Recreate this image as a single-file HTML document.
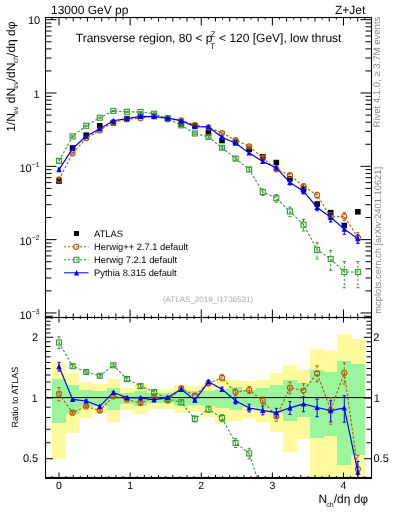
<!DOCTYPE html><html><head><meta charset="utf-8"><style>html,body{margin:0;padding:0;background:#fff;overflow:hidden}svg{display:block;will-change:transform;text-rendering:geometricPrecision;font-family:"Liberation Sans",sans-serif}</style></head><body><svg width="393" height="512" viewBox="0 0 393 512">
<rect x="0" y="0" width="393" height="512" fill="#fff"/>
<g shape-rendering="crispEdges">
<rect x="52" y="362.5" width="14" height="96.2" fill="#fffa9c"/>
<rect x="66" y="373.0" width="13" height="60.1" fill="#fffa9c"/>
<rect x="79" y="382.0" width="14" height="35.5" fill="#fffa9c"/>
<rect x="93" y="384.2" width="14" height="30.1" fill="#fffa9c"/>
<rect x="107" y="379.2" width="13" height="42.9" fill="#fffa9c"/>
<rect x="120" y="387.7" width="14" height="22.0" fill="#fffa9c"/>
<rect x="134" y="384.2" width="13" height="30.1" fill="#fffa9c"/>
<rect x="147" y="388.5" width="14" height="20.2" fill="#fffa9c"/>
<rect x="161" y="388.5" width="13" height="20.2" fill="#fffa9c"/>
<rect x="174" y="385.0" width="14" height="28.3" fill="#fffa9c"/>
<rect x="188" y="386.1" width="14" height="25.6" fill="#fffa9c"/>
<rect x="202" y="382.8" width="13" height="33.7" fill="#fffa9c"/>
<rect x="215" y="378.5" width="14" height="44.7" fill="#fffa9c"/>
<rect x="229" y="379.9" width="13" height="41.0" fill="#fffa9c"/>
<rect x="242" y="381.3" width="14" height="37.3" fill="#fffa9c"/>
<rect x="256" y="379.5" width="14" height="42.0" fill="#fffa9c"/>
<rect x="270" y="373.3" width="13" height="59.1" fill="#fffa9c"/>
<rect x="283" y="364.9" width="14" height="87.1" fill="#fffa9c"/>
<rect x="297" y="370.1" width="13" height="69.1" fill="#fffa9c"/>
<rect x="310" y="349.0" width="14" height="128.5" fill="#fffa9c"/>
<rect x="324" y="351.0" width="13" height="126.5" fill="#fffa9c"/>
<rect x="337" y="334.3" width="14" height="143.2" fill="#fffa9c"/>
<rect x="351" y="338.6" width="14" height="138.9" fill="#fffa9c"/>
<rect x="52" y="378.5" width="14" height="44.7" fill="#9bf59b"/>
<rect x="66" y="384.5" width="13" height="29.4" fill="#9bf59b"/>
<rect x="79" y="389.7" width="14" height="17.6" fill="#9bf59b"/>
<rect x="93" y="390.9" width="14" height="14.9" fill="#9bf59b"/>
<rect x="107" y="387.7" width="13" height="22.0" fill="#9bf59b"/>
<rect x="120" y="392.5" width="14" height="11.4" fill="#9bf59b"/>
<rect x="134" y="390.7" width="13" height="15.3" fill="#9bf59b"/>
<rect x="147" y="392.9" width="14" height="10.5" fill="#9bf59b"/>
<rect x="161" y="392.9" width="13" height="10.5" fill="#9bf59b"/>
<rect x="174" y="390.5" width="14" height="15.8" fill="#9bf59b"/>
<rect x="188" y="391.3" width="14" height="14.0" fill="#9bf59b"/>
<rect x="202" y="390.5" width="13" height="15.8" fill="#9bf59b"/>
<rect x="215" y="388.9" width="14" height="19.3" fill="#9bf59b"/>
<rect x="229" y="387.3" width="13" height="22.9" fill="#9bf59b"/>
<rect x="242" y="389.7" width="14" height="17.6" fill="#9bf59b"/>
<rect x="256" y="388.1" width="14" height="21.1" fill="#9bf59b"/>
<rect x="270" y="385.0" width="13" height="28.3" fill="#9bf59b"/>
<rect x="283" y="379.9" width="14" height="41.0" fill="#9bf59b"/>
<rect x="297" y="382.8" width="13" height="33.7" fill="#9bf59b"/>
<rect x="310" y="370.4" width="14" height="68.0" fill="#9bf59b"/>
<rect x="324" y="371.7" width="13" height="64.0" fill="#9bf59b"/>
<rect x="337" y="360.5" width="14" height="104.6" fill="#9bf59b"/>
<rect x="351" y="363.7" width="14" height="91.6" fill="#9bf59b"/>
</g>
<line x1="45.5" y1="397.6" x2="371.5" y2="397.6" stroke="#000" stroke-width="1"/>
<defs><clipPath id="cm"><rect x="46" y="18" width="325" height="299"/></clipPath><clipPath id="cr"><rect x="46" y="318" width="325" height="159.5"/></clipPath></defs>
<rect x="56.20" y="178.20" width="5.6" height="5.6" fill="#000" clip-path="url(#cm)"/>
<rect x="69.79" y="145.20" width="5.6" height="5.6" fill="#000" clip-path="url(#cm)"/>
<rect x="83.37" y="132.40" width="5.6" height="5.6" fill="#000" clip-path="url(#cm)"/>
<rect x="96.95" y="123.00" width="5.6" height="5.6" fill="#000" clip-path="url(#cm)"/>
<rect x="110.54" y="120.00" width="5.6" height="5.6" fill="#000" clip-path="url(#cm)"/>
<rect x="124.13" y="115.90" width="5.6" height="5.6" fill="#000" clip-path="url(#cm)"/>
<rect x="137.71" y="113.50" width="5.6" height="5.6" fill="#000" clip-path="url(#cm)"/>
<rect x="151.29" y="113.10" width="5.6" height="5.6" fill="#000" clip-path="url(#cm)"/>
<rect x="164.88" y="115.50" width="5.6" height="5.6" fill="#000" clip-path="url(#cm)"/>
<rect x="178.47" y="121.00" width="5.6" height="5.6" fill="#000" clip-path="url(#cm)"/>
<rect x="192.05" y="123.10" width="5.6" height="5.6" fill="#000" clip-path="url(#cm)"/>
<rect x="205.63" y="130.00" width="5.6" height="5.6" fill="#000" clip-path="url(#cm)"/>
<rect x="219.22" y="137.70" width="5.6" height="5.6" fill="#000" clip-path="url(#cm)"/>
<rect x="232.81" y="139.40" width="5.6" height="5.6" fill="#000" clip-path="url(#cm)"/>
<rect x="246.39" y="146.50" width="5.6" height="5.6" fill="#000" clip-path="url(#cm)"/>
<rect x="259.97" y="154.10" width="5.6" height="5.6" fill="#000" clip-path="url(#cm)"/>
<rect x="273.56" y="159.80" width="5.6" height="5.6" fill="#000" clip-path="url(#cm)"/>
<rect x="287.15" y="176.10" width="5.6" height="5.6" fill="#000" clip-path="url(#cm)"/>
<rect x="300.73" y="186.20" width="5.6" height="5.6" fill="#000" clip-path="url(#cm)"/>
<rect x="314.31" y="201.20" width="5.6" height="5.6" fill="#000" clip-path="url(#cm)"/>
<rect x="327.90" y="209.90" width="5.6" height="5.6" fill="#000" clip-path="url(#cm)"/>
<rect x="341.49" y="222.70" width="5.6" height="5.6" fill="#000" clip-path="url(#cm)"/>
<rect x="355.07" y="209.00" width="5.6" height="5.6" fill="#000" clip-path="url(#cm)"/>
<polyline points="59.00,179.51 72.59,153.34 86.17,138.25 99.75,130.38 113.34,122.18 126.93,119.25 140.51,118.15 154.09,115.68 167.68,119.21 181.27,120.27 194.85,124.99 208.44,127.42 222.02,133.12 235.61,140.13 249.19,146.39 262.77,157.92 276.36,169.32 289.95,175.19 303.53,186.27 317.12,195.06 330.70,217.06 344.29,216.34 357.87,237.64" fill="none" stroke="#b35900" stroke-width="1.1" stroke-dasharray="2.5,1.8" clip-path="url(#cm)"/>
<g stroke="#b35900" stroke-width="1" clip-path="url(#cm)"><line x1="59.00" y1="177.21" x2="59.00" y2="181.99" stroke-dasharray="2.5,1.8"/><line x1="57.40" y1="177.21" x2="60.60" y2="177.21"/><line x1="57.40" y1="181.99" x2="60.60" y2="181.99"/></g>
<g stroke="#b35900" stroke-width="1" clip-path="url(#cm)"><line x1="72.59" y1="152.87" x2="72.59" y2="153.82" stroke-dasharray="2.5,1.8"/><line x1="70.99" y1="152.87" x2="74.19" y2="152.87"/><line x1="70.99" y1="153.82" x2="74.19" y2="153.82"/></g>
<g stroke="#b35900" stroke-width="1" clip-path="url(#cm)"><line x1="86.17" y1="137.87" x2="86.17" y2="138.64" stroke-dasharray="2.5,1.8"/><line x1="84.57" y1="137.87" x2="87.77" y2="137.87"/><line x1="84.57" y1="138.64" x2="87.77" y2="138.64"/></g>
<g stroke="#b35900" stroke-width="1" clip-path="url(#cm)"><line x1="99.75" y1="130.00" x2="99.75" y2="130.76" stroke-dasharray="2.5,1.8"/><line x1="98.16" y1="130.00" x2="101.35" y2="130.00"/><line x1="98.16" y1="130.76" x2="101.35" y2="130.76"/></g>
<g stroke="#b35900" stroke-width="1" clip-path="url(#cm)"><line x1="113.34" y1="121.80" x2="113.34" y2="122.57" stroke-dasharray="2.5,1.8"/><line x1="111.74" y1="121.80" x2="114.94" y2="121.80"/><line x1="111.74" y1="122.57" x2="114.94" y2="122.57"/></g>
<g stroke="#b35900" stroke-width="1" clip-path="url(#cm)"><line x1="126.93" y1="118.87" x2="126.93" y2="119.63" stroke-dasharray="2.5,1.8"/><line x1="125.33" y1="118.87" x2="128.53" y2="118.87"/><line x1="125.33" y1="119.63" x2="128.53" y2="119.63"/></g>
<g stroke="#b35900" stroke-width="1" clip-path="url(#cm)"><line x1="140.51" y1="117.68" x2="140.51" y2="118.64" stroke-dasharray="2.5,1.8"/><line x1="138.91" y1="117.68" x2="142.11" y2="117.68"/><line x1="138.91" y1="118.64" x2="142.11" y2="118.64"/></g>
<g stroke="#b35900" stroke-width="1" clip-path="url(#cm)"><line x1="154.09" y1="115.21" x2="154.09" y2="116.16" stroke-dasharray="2.5,1.8"/><line x1="152.50" y1="115.21" x2="155.69" y2="115.21"/><line x1="152.50" y1="116.16" x2="155.69" y2="116.16"/></g>
<g stroke="#b35900" stroke-width="1" clip-path="url(#cm)"><line x1="167.68" y1="118.58" x2="167.68" y2="119.85" stroke-dasharray="2.5,1.8"/><line x1="166.08" y1="118.58" x2="169.28" y2="118.58"/><line x1="166.08" y1="119.85" x2="169.28" y2="119.85"/></g>
<g stroke="#b35900" stroke-width="1" clip-path="url(#cm)"><line x1="181.27" y1="119.64" x2="181.27" y2="120.92" stroke-dasharray="2.5,1.8"/><line x1="179.67" y1="119.64" x2="182.87" y2="119.64"/><line x1="179.67" y1="120.92" x2="182.87" y2="120.92"/></g>
<g stroke="#b35900" stroke-width="1" clip-path="url(#cm)"><line x1="194.85" y1="124.20" x2="194.85" y2="125.80" stroke-dasharray="2.5,1.8"/><line x1="193.25" y1="124.20" x2="196.45" y2="124.20"/><line x1="193.25" y1="125.80" x2="196.45" y2="125.80"/></g>
<g stroke="#b35900" stroke-width="1" clip-path="url(#cm)"><line x1="208.44" y1="126.48" x2="208.44" y2="128.39" stroke-dasharray="2.5,1.8"/><line x1="206.84" y1="126.48" x2="210.03" y2="126.48"/><line x1="206.84" y1="128.39" x2="210.03" y2="128.39"/></g>
<g stroke="#b35900" stroke-width="1" clip-path="url(#cm)"><line x1="222.02" y1="132.03" x2="222.02" y2="134.26" stroke-dasharray="2.5,1.8"/><line x1="220.42" y1="132.03" x2="223.62" y2="132.03"/><line x1="220.42" y1="134.26" x2="223.62" y2="134.26"/></g>
<g stroke="#b35900" stroke-width="1" clip-path="url(#cm)"><line x1="235.61" y1="138.88" x2="235.61" y2="141.43" stroke-dasharray="2.5,1.8"/><line x1="234.01" y1="138.88" x2="237.21" y2="138.88"/><line x1="234.01" y1="141.43" x2="237.21" y2="141.43"/></g>
<g stroke="#b35900" stroke-width="1" clip-path="url(#cm)"><line x1="249.19" y1="145.14" x2="249.19" y2="147.69" stroke-dasharray="2.5,1.8"/><line x1="247.59" y1="145.14" x2="250.79" y2="145.14"/><line x1="247.59" y1="147.69" x2="250.79" y2="147.69"/></g>
<g stroke="#b35900" stroke-width="1" clip-path="url(#cm)"><line x1="262.77" y1="156.55" x2="262.77" y2="159.35" stroke-dasharray="2.5,1.8"/><line x1="261.17" y1="156.55" x2="264.38" y2="156.55"/><line x1="261.17" y1="159.35" x2="264.38" y2="159.35"/></g>
<g stroke="#b35900" stroke-width="1" clip-path="url(#cm)"><line x1="276.36" y1="167.71" x2="276.36" y2="171.03" stroke-dasharray="2.5,1.8"/><line x1="274.76" y1="167.71" x2="277.96" y2="167.71"/><line x1="274.76" y1="171.03" x2="277.96" y2="171.03"/></g>
<g stroke="#b35900" stroke-width="1" clip-path="url(#cm)"><line x1="289.95" y1="173.10" x2="289.95" y2="177.43" stroke-dasharray="2.5,1.8"/><line x1="288.35" y1="173.10" x2="291.55" y2="173.10"/><line x1="288.35" y1="177.43" x2="291.55" y2="177.43"/></g>
<g stroke="#b35900" stroke-width="1" clip-path="url(#cm)"><line x1="303.53" y1="183.82" x2="303.53" y2="188.93" stroke-dasharray="2.5,1.8"/><line x1="301.93" y1="183.82" x2="305.13" y2="183.82"/><line x1="301.93" y1="188.93" x2="305.13" y2="188.93"/></g>
<g stroke="#b35900" stroke-width="1" clip-path="url(#cm)"><line x1="317.12" y1="192.31" x2="317.12" y2="198.06" stroke-dasharray="2.5,1.8"/><line x1="315.51" y1="192.31" x2="318.72" y2="192.31"/><line x1="315.51" y1="198.06" x2="318.72" y2="198.06"/></g>
<g stroke="#b35900" stroke-width="1" clip-path="url(#cm)"><line x1="330.70" y1="212.61" x2="330.70" y2="222.24" stroke-dasharray="2.5,1.8"/><line x1="329.10" y1="212.61" x2="332.30" y2="212.61"/><line x1="329.10" y1="222.24" x2="332.30" y2="222.24"/></g>
<g stroke="#b35900" stroke-width="1" clip-path="url(#cm)"><line x1="344.29" y1="212.73" x2="344.29" y2="220.41" stroke-dasharray="2.5,1.8"/><line x1="342.69" y1="212.73" x2="345.89" y2="212.73"/><line x1="342.69" y1="220.41" x2="345.89" y2="220.41"/></g>
<g stroke="#b35900" stroke-width="1" clip-path="url(#cm)"><line x1="357.87" y1="232.65" x2="357.87" y2="243.58" stroke-dasharray="2.5,1.8"/><line x1="356.27" y1="232.65" x2="359.47" y2="232.65"/><line x1="356.27" y1="243.58" x2="359.47" y2="243.58"/></g>
<circle cx="59.00" cy="179.51" r="2.55" fill="none" stroke="#b35900" stroke-width="1.1" clip-path="url(#cm)"/>
<circle cx="72.59" cy="153.34" r="2.55" fill="none" stroke="#b35900" stroke-width="1.1" clip-path="url(#cm)"/>
<circle cx="86.17" cy="138.25" r="2.55" fill="none" stroke="#b35900" stroke-width="1.1" clip-path="url(#cm)"/>
<circle cx="99.75" cy="130.38" r="2.55" fill="none" stroke="#b35900" stroke-width="1.1" clip-path="url(#cm)"/>
<circle cx="113.34" cy="122.18" r="2.55" fill="none" stroke="#b35900" stroke-width="1.1" clip-path="url(#cm)"/>
<circle cx="126.93" cy="119.25" r="2.55" fill="none" stroke="#b35900" stroke-width="1.1" clip-path="url(#cm)"/>
<circle cx="140.51" cy="118.15" r="2.55" fill="none" stroke="#b35900" stroke-width="1.1" clip-path="url(#cm)"/>
<circle cx="154.09" cy="115.68" r="2.55" fill="none" stroke="#b35900" stroke-width="1.1" clip-path="url(#cm)"/>
<circle cx="167.68" cy="119.21" r="2.55" fill="none" stroke="#b35900" stroke-width="1.1" clip-path="url(#cm)"/>
<circle cx="181.27" cy="120.27" r="2.55" fill="none" stroke="#b35900" stroke-width="1.1" clip-path="url(#cm)"/>
<circle cx="194.85" cy="124.99" r="2.55" fill="none" stroke="#b35900" stroke-width="1.1" clip-path="url(#cm)"/>
<circle cx="208.44" cy="127.42" r="2.55" fill="none" stroke="#b35900" stroke-width="1.1" clip-path="url(#cm)"/>
<circle cx="222.02" cy="133.12" r="2.55" fill="none" stroke="#b35900" stroke-width="1.1" clip-path="url(#cm)"/>
<circle cx="235.61" cy="140.13" r="2.55" fill="none" stroke="#b35900" stroke-width="1.1" clip-path="url(#cm)"/>
<circle cx="249.19" cy="146.39" r="2.55" fill="none" stroke="#b35900" stroke-width="1.1" clip-path="url(#cm)"/>
<circle cx="262.77" cy="157.92" r="2.55" fill="none" stroke="#b35900" stroke-width="1.1" clip-path="url(#cm)"/>
<circle cx="276.36" cy="169.32" r="2.55" fill="none" stroke="#b35900" stroke-width="1.1" clip-path="url(#cm)"/>
<circle cx="289.95" cy="175.19" r="2.55" fill="none" stroke="#b35900" stroke-width="1.1" clip-path="url(#cm)"/>
<circle cx="303.53" cy="186.27" r="2.55" fill="none" stroke="#b35900" stroke-width="1.1" clip-path="url(#cm)"/>
<circle cx="317.12" cy="195.06" r="2.55" fill="none" stroke="#b35900" stroke-width="1.1" clip-path="url(#cm)"/>
<circle cx="330.70" cy="217.06" r="2.55" fill="none" stroke="#b35900" stroke-width="1.1" clip-path="url(#cm)"/>
<circle cx="344.29" cy="216.34" r="2.55" fill="none" stroke="#b35900" stroke-width="1.1" clip-path="url(#cm)"/>
<circle cx="357.87" cy="237.64" r="2.55" fill="none" stroke="#b35900" stroke-width="1.1" clip-path="url(#cm)"/>
<polyline points="59.00,160.83 72.59,136.44 86.17,125.75 99.75,117.73 113.34,110.91 126.93,111.79 140.51,111.97 154.09,113.72 167.68,118.66 181.27,125.33 194.85,133.50 208.44,136.91 222.02,147.77 235.61,158.56 249.19,169.44 262.77,192.10 276.36,198.20 289.95,211.50 303.53,224.70 317.12,249.80 330.70,259.00 344.29,272.00 357.87,272.00" fill="none" stroke="#339933" stroke-width="1.1" stroke-dasharray="2.5,1.8" clip-path="url(#cm)"/>
<g stroke="#339933" stroke-width="1" clip-path="url(#cm)"><line x1="59.00" y1="158.76" x2="59.00" y2="163.03" stroke-dasharray="2.5,1.8"/><line x1="57.40" y1="158.76" x2="60.60" y2="158.76"/><line x1="57.40" y1="163.03" x2="60.60" y2="163.03"/></g>
<g stroke="#339933" stroke-width="1" clip-path="url(#cm)"><line x1="72.59" y1="135.81" x2="72.59" y2="137.08" stroke-dasharray="2.5,1.8"/><line x1="70.99" y1="135.81" x2="74.19" y2="135.81"/><line x1="70.99" y1="137.08" x2="74.19" y2="137.08"/></g>
<g stroke="#339933" stroke-width="1" clip-path="url(#cm)"><line x1="86.17" y1="125.27" x2="86.17" y2="126.23" stroke-dasharray="2.5,1.8"/><line x1="84.57" y1="125.27" x2="87.77" y2="125.27"/><line x1="84.57" y1="126.23" x2="87.77" y2="126.23"/></g>
<g stroke="#339933" stroke-width="1" clip-path="url(#cm)"><line x1="99.75" y1="117.26" x2="99.75" y2="118.21" stroke-dasharray="2.5,1.8"/><line x1="98.16" y1="117.26" x2="101.35" y2="117.26"/><line x1="98.16" y1="118.21" x2="101.35" y2="118.21"/></g>
<g stroke="#339933" stroke-width="1" clip-path="url(#cm)"><line x1="113.34" y1="110.44" x2="113.34" y2="111.39" stroke-dasharray="2.5,1.8"/><line x1="111.74" y1="110.44" x2="114.94" y2="110.44"/><line x1="111.74" y1="111.39" x2="114.94" y2="111.39"/></g>
<g stroke="#339933" stroke-width="1" clip-path="url(#cm)"><line x1="126.93" y1="111.16" x2="126.93" y2="112.44" stroke-dasharray="2.5,1.8"/><line x1="125.33" y1="111.16" x2="128.53" y2="111.16"/><line x1="125.33" y1="112.44" x2="128.53" y2="112.44"/></g>
<g stroke="#339933" stroke-width="1" clip-path="url(#cm)"><line x1="140.51" y1="111.34" x2="140.51" y2="112.62" stroke-dasharray="2.5,1.8"/><line x1="138.91" y1="111.34" x2="142.11" y2="111.34"/><line x1="138.91" y1="112.62" x2="142.11" y2="112.62"/></g>
<g stroke="#339933" stroke-width="1" clip-path="url(#cm)"><line x1="154.09" y1="113.09" x2="154.09" y2="114.36" stroke-dasharray="2.5,1.8"/><line x1="152.50" y1="113.09" x2="155.69" y2="113.09"/><line x1="152.50" y1="114.36" x2="155.69" y2="114.36"/></g>
<g stroke="#339933" stroke-width="1" clip-path="url(#cm)"><line x1="167.68" y1="117.88" x2="167.68" y2="119.47" stroke-dasharray="2.5,1.8"/><line x1="166.08" y1="117.88" x2="169.28" y2="117.88"/><line x1="166.08" y1="119.47" x2="169.28" y2="119.47"/></g>
<g stroke="#339933" stroke-width="1" clip-path="url(#cm)"><line x1="181.27" y1="124.54" x2="181.27" y2="126.13" stroke-dasharray="2.5,1.8"/><line x1="179.67" y1="124.54" x2="182.87" y2="124.54"/><line x1="179.67" y1="126.13" x2="182.87" y2="126.13"/></g>
<g stroke="#339933" stroke-width="1" clip-path="url(#cm)"><line x1="194.85" y1="132.40" x2="194.85" y2="134.63" stroke-dasharray="2.5,1.8"/><line x1="193.25" y1="132.40" x2="196.45" y2="132.40"/><line x1="193.25" y1="134.63" x2="196.45" y2="134.63"/></g>
<g stroke="#339933" stroke-width="1" clip-path="url(#cm)"><line x1="208.44" y1="135.81" x2="208.44" y2="138.04" stroke-dasharray="2.5,1.8"/><line x1="206.84" y1="135.81" x2="210.03" y2="135.81"/><line x1="206.84" y1="138.04" x2="210.03" y2="138.04"/></g>
<g stroke="#339933" stroke-width="1" clip-path="url(#cm)"><line x1="222.02" y1="146.52" x2="222.02" y2="149.07" stroke-dasharray="2.5,1.8"/><line x1="220.42" y1="146.52" x2="223.62" y2="146.52"/><line x1="220.42" y1="149.07" x2="223.62" y2="149.07"/></g>
<g stroke="#339933" stroke-width="1" clip-path="url(#cm)"><line x1="235.61" y1="157.00" x2="235.61" y2="160.19" stroke-dasharray="2.5,1.8"/><line x1="234.01" y1="157.00" x2="237.21" y2="157.00"/><line x1="234.01" y1="160.19" x2="237.21" y2="160.19"/></g>
<g stroke="#339933" stroke-width="1" clip-path="url(#cm)"><line x1="249.19" y1="167.58" x2="249.19" y2="171.41" stroke-dasharray="2.5,1.8"/><line x1="247.59" y1="167.58" x2="250.79" y2="167.58"/><line x1="247.59" y1="171.41" x2="250.79" y2="171.41"/></g>
<g stroke="#339933" stroke-width="1" clip-path="url(#cm)"><line x1="262.77" y1="189.07" x2="262.77" y2="195.45" stroke-dasharray="2.5,1.8"/><line x1="261.17" y1="189.07" x2="264.38" y2="189.07"/><line x1="261.17" y1="195.45" x2="264.38" y2="195.45"/></g>
<g stroke="#339933" stroke-width="1" clip-path="url(#cm)"><line x1="276.36" y1="194.59" x2="276.36" y2="202.27" stroke-dasharray="2.5,1.8"/><line x1="274.76" y1="194.59" x2="277.96" y2="194.59"/><line x1="274.76" y1="202.27" x2="277.96" y2="202.27"/></g>
<g stroke="#339933" stroke-width="1" clip-path="url(#cm)"><line x1="289.95" y1="207.05" x2="289.95" y2="216.68" stroke-dasharray="2.5,1.8"/><line x1="288.35" y1="207.05" x2="291.55" y2="207.05"/><line x1="288.35" y1="216.68" x2="291.55" y2="216.68"/></g>
<g stroke="#339933" stroke-width="1" clip-path="url(#cm)"><line x1="303.53" y1="219.43" x2="303.53" y2="231.02" stroke-dasharray="2.5,1.8"/><line x1="301.93" y1="219.43" x2="305.13" y2="219.43"/><line x1="301.93" y1="231.02" x2="305.13" y2="231.02"/></g>
<g stroke="#339933" stroke-width="1" clip-path="url(#cm)"><line x1="317.12" y1="242.69" x2="317.12" y2="258.96" stroke-dasharray="2.5,1.8"/><line x1="315.51" y1="242.69" x2="318.72" y2="242.69"/><line x1="315.51" y1="258.96" x2="318.72" y2="258.96"/></g>
<g stroke="#339933" stroke-width="1" clip-path="url(#cm)"><line x1="330.70" y1="250.65" x2="330.70" y2="270.36" stroke-dasharray="2.5,1.8"/><line x1="329.10" y1="250.65" x2="332.30" y2="250.65"/><line x1="329.10" y1="270.36" x2="332.30" y2="270.36"/></g>
<g stroke="#339933" stroke-width="1" clip-path="url(#cm)"><line x1="344.29" y1="261.51" x2="344.29" y2="287.74" stroke-dasharray="2.5,1.8"/><line x1="342.69" y1="261.51" x2="345.89" y2="261.51"/><line x1="342.69" y1="287.74" x2="345.89" y2="287.74"/></g>
<g stroke="#339933" stroke-width="1" clip-path="url(#cm)"><line x1="357.87" y1="261.51" x2="357.87" y2="287.74" stroke-dasharray="2.5,1.8"/><line x1="356.27" y1="261.51" x2="359.47" y2="261.51"/><line x1="356.27" y1="287.74" x2="359.47" y2="287.74"/></g>
<rect x="56.50" y="158.33" width="5" height="5" fill="none" stroke="#339933" stroke-width="1.1" clip-path="url(#cm)"/>
<rect x="70.09" y="133.94" width="5" height="5" fill="none" stroke="#339933" stroke-width="1.1" clip-path="url(#cm)"/>
<rect x="83.67" y="123.25" width="5" height="5" fill="none" stroke="#339933" stroke-width="1.1" clip-path="url(#cm)"/>
<rect x="97.25" y="115.23" width="5" height="5" fill="none" stroke="#339933" stroke-width="1.1" clip-path="url(#cm)"/>
<rect x="110.84" y="108.41" width="5" height="5" fill="none" stroke="#339933" stroke-width="1.1" clip-path="url(#cm)"/>
<rect x="124.43" y="109.29" width="5" height="5" fill="none" stroke="#339933" stroke-width="1.1" clip-path="url(#cm)"/>
<rect x="138.01" y="109.47" width="5" height="5" fill="none" stroke="#339933" stroke-width="1.1" clip-path="url(#cm)"/>
<rect x="151.59" y="111.22" width="5" height="5" fill="none" stroke="#339933" stroke-width="1.1" clip-path="url(#cm)"/>
<rect x="165.18" y="116.16" width="5" height="5" fill="none" stroke="#339933" stroke-width="1.1" clip-path="url(#cm)"/>
<rect x="178.77" y="122.83" width="5" height="5" fill="none" stroke="#339933" stroke-width="1.1" clip-path="url(#cm)"/>
<rect x="192.35" y="131.00" width="5" height="5" fill="none" stroke="#339933" stroke-width="1.1" clip-path="url(#cm)"/>
<rect x="205.94" y="134.41" width="5" height="5" fill="none" stroke="#339933" stroke-width="1.1" clip-path="url(#cm)"/>
<rect x="219.52" y="145.27" width="5" height="5" fill="none" stroke="#339933" stroke-width="1.1" clip-path="url(#cm)"/>
<rect x="233.11" y="156.06" width="5" height="5" fill="none" stroke="#339933" stroke-width="1.1" clip-path="url(#cm)"/>
<rect x="246.69" y="166.94" width="5" height="5" fill="none" stroke="#339933" stroke-width="1.1" clip-path="url(#cm)"/>
<rect x="260.27" y="189.60" width="5" height="5" fill="none" stroke="#339933" stroke-width="1.1" clip-path="url(#cm)"/>
<rect x="273.86" y="195.70" width="5" height="5" fill="none" stroke="#339933" stroke-width="1.1" clip-path="url(#cm)"/>
<rect x="287.45" y="209.00" width="5" height="5" fill="none" stroke="#339933" stroke-width="1.1" clip-path="url(#cm)"/>
<rect x="301.03" y="222.20" width="5" height="5" fill="none" stroke="#339933" stroke-width="1.1" clip-path="url(#cm)"/>
<rect x="314.62" y="247.30" width="5" height="5" fill="none" stroke="#339933" stroke-width="1.1" clip-path="url(#cm)"/>
<rect x="328.20" y="256.50" width="5" height="5" fill="none" stroke="#339933" stroke-width="1.1" clip-path="url(#cm)"/>
<rect x="341.79" y="269.50" width="5" height="5" fill="none" stroke="#339933" stroke-width="1.1" clip-path="url(#cm)"/>
<rect x="355.37" y="269.50" width="5" height="5" fill="none" stroke="#339933" stroke-width="1.1" clip-path="url(#cm)"/>
<polyline points="59.00,169.59 72.59,148.51 86.17,136.29 99.75,128.85 113.34,120.76 126.93,118.59 140.51,116.30 154.09,116.59 167.68,118.12 181.27,120.64 194.85,126.66 208.44,126.91 222.02,137.34 235.61,143.22 249.19,152.94 262.77,161.41 276.36,167.91 289.95,182.46 303.53,191.14 317.12,207.45 330.70,217.32 344.29,229.13 357.87,238.77" fill="none" stroke="#0000ff" stroke-width="1.2" clip-path="url(#cm)"/>
<g stroke="#0000ff" stroke-width="1" clip-path="url(#cm)"><line x1="59.00" y1="168.03" x2="59.00" y2="171.22"/><line x1="57.40" y1="168.03" x2="60.60" y2="168.03"/><line x1="57.40" y1="171.22" x2="60.60" y2="171.22"/></g>
<g stroke="#0000ff" stroke-width="1" clip-path="url(#cm)"><line x1="72.59" y1="148.03" x2="72.59" y2="148.99"/><line x1="70.99" y1="148.03" x2="74.19" y2="148.03"/><line x1="70.99" y1="148.99" x2="74.19" y2="148.99"/></g>
<g stroke="#0000ff" stroke-width="1" clip-path="url(#cm)"><line x1="86.17" y1="135.91" x2="86.17" y2="136.67"/><line x1="84.57" y1="135.91" x2="87.77" y2="135.91"/><line x1="84.57" y1="136.67" x2="87.77" y2="136.67"/></g>
<g stroke="#0000ff" stroke-width="1" clip-path="url(#cm)"><line x1="99.75" y1="128.47" x2="99.75" y2="129.24"/><line x1="98.16" y1="128.47" x2="101.35" y2="128.47"/><line x1="98.16" y1="129.24" x2="101.35" y2="129.24"/></g>
<g stroke="#0000ff" stroke-width="1" clip-path="url(#cm)"><line x1="113.34" y1="120.38" x2="113.34" y2="121.15"/><line x1="111.74" y1="120.38" x2="114.94" y2="120.38"/><line x1="111.74" y1="121.15" x2="114.94" y2="121.15"/></g>
<g stroke="#0000ff" stroke-width="1" clip-path="url(#cm)"><line x1="126.93" y1="118.21" x2="126.93" y2="118.98"/><line x1="125.33" y1="118.21" x2="128.53" y2="118.21"/><line x1="125.33" y1="118.98" x2="128.53" y2="118.98"/></g>
<g stroke="#0000ff" stroke-width="1" clip-path="url(#cm)"><line x1="140.51" y1="115.92" x2="140.51" y2="116.68"/><line x1="138.91" y1="115.92" x2="142.11" y2="115.92"/><line x1="138.91" y1="116.68" x2="142.11" y2="116.68"/></g>
<g stroke="#0000ff" stroke-width="1" clip-path="url(#cm)"><line x1="154.09" y1="116.21" x2="154.09" y2="116.98"/><line x1="152.50" y1="116.21" x2="155.69" y2="116.21"/><line x1="152.50" y1="116.98" x2="155.69" y2="116.98"/></g>
<g stroke="#0000ff" stroke-width="1" clip-path="url(#cm)"><line x1="167.68" y1="117.64" x2="167.68" y2="118.60"/><line x1="166.08" y1="117.64" x2="169.28" y2="117.64"/><line x1="166.08" y1="118.60" x2="169.28" y2="118.60"/></g>
<g stroke="#0000ff" stroke-width="1" clip-path="url(#cm)"><line x1="181.27" y1="120.16" x2="181.27" y2="121.12"/><line x1="179.67" y1="120.16" x2="182.87" y2="120.16"/><line x1="179.67" y1="121.12" x2="182.87" y2="121.12"/></g>
<g stroke="#0000ff" stroke-width="1" clip-path="url(#cm)"><line x1="194.85" y1="126.03" x2="194.85" y2="127.31"/><line x1="193.25" y1="126.03" x2="196.45" y2="126.03"/><line x1="193.25" y1="127.31" x2="196.45" y2="127.31"/></g>
<g stroke="#0000ff" stroke-width="1" clip-path="url(#cm)"><line x1="208.44" y1="126.28" x2="208.44" y2="127.55"/><line x1="206.84" y1="126.28" x2="210.03" y2="126.28"/><line x1="206.84" y1="127.55" x2="210.03" y2="127.55"/></g>
<g stroke="#0000ff" stroke-width="1" clip-path="url(#cm)"><line x1="222.02" y1="136.55" x2="222.02" y2="138.14"/><line x1="220.42" y1="136.55" x2="223.62" y2="136.55"/><line x1="220.42" y1="138.14" x2="223.62" y2="138.14"/></g>
<g stroke="#0000ff" stroke-width="1" clip-path="url(#cm)"><line x1="235.61" y1="142.12" x2="235.61" y2="144.35"/><line x1="234.01" y1="142.12" x2="237.21" y2="142.12"/><line x1="234.01" y1="144.35" x2="237.21" y2="144.35"/></g>
<g stroke="#0000ff" stroke-width="1" clip-path="url(#cm)"><line x1="249.19" y1="151.56" x2="249.19" y2="154.37"/><line x1="247.59" y1="151.56" x2="250.79" y2="151.56"/><line x1="247.59" y1="154.37" x2="250.79" y2="154.37"/></g>
<g stroke="#0000ff" stroke-width="1" clip-path="url(#cm)"><line x1="262.77" y1="159.88" x2="262.77" y2="163.01"/><line x1="261.17" y1="159.88" x2="264.38" y2="159.88"/><line x1="261.17" y1="163.01" x2="264.38" y2="163.01"/></g>
<g stroke="#0000ff" stroke-width="1" clip-path="url(#cm)"><line x1="276.36" y1="166.35" x2="276.36" y2="169.54"/><line x1="274.76" y1="166.35" x2="277.96" y2="166.35"/><line x1="274.76" y1="169.54" x2="277.96" y2="169.54"/></g>
<g stroke="#0000ff" stroke-width="1" clip-path="url(#cm)"><line x1="289.95" y1="180.19" x2="289.95" y2="184.91"/><line x1="288.35" y1="180.19" x2="291.55" y2="180.19"/><line x1="288.35" y1="184.91" x2="291.55" y2="184.91"/></g>
<g stroke="#0000ff" stroke-width="1" clip-path="url(#cm)"><line x1="303.53" y1="188.55" x2="303.53" y2="193.97"/><line x1="301.93" y1="188.55" x2="305.13" y2="188.55"/><line x1="301.93" y1="193.97" x2="305.13" y2="193.97"/></g>
<g stroke="#0000ff" stroke-width="1" clip-path="url(#cm)"><line x1="317.12" y1="204.42" x2="317.12" y2="210.81"/><line x1="315.51" y1="204.42" x2="318.72" y2="204.42"/><line x1="315.51" y1="210.81" x2="318.72" y2="210.81"/></g>
<g stroke="#0000ff" stroke-width="1" clip-path="url(#cm)"><line x1="330.70" y1="213.71" x2="330.70" y2="221.39"/><line x1="329.10" y1="213.71" x2="332.30" y2="213.71"/><line x1="329.10" y1="221.39" x2="332.30" y2="221.39"/></g>
<g stroke="#0000ff" stroke-width="1" clip-path="url(#cm)"><line x1="344.29" y1="224.68" x2="344.29" y2="234.31"/><line x1="342.69" y1="224.68" x2="345.89" y2="224.68"/><line x1="342.69" y1="234.31" x2="345.89" y2="234.31"/></g>
<g stroke="#0000ff" stroke-width="1" clip-path="url(#cm)"><line x1="357.87" y1="234.88" x2="357.87" y2="243.21"/><line x1="356.27" y1="234.88" x2="359.47" y2="234.88"/><line x1="356.27" y1="243.21" x2="359.47" y2="243.21"/></g>
<path d="M56.30,172.19 L61.70,172.19 L59.00,166.59 Z" fill="#0000ff" clip-path="url(#cm)"/>
<path d="M69.89,151.11 L75.29,151.11 L72.59,145.51 Z" fill="#0000ff" clip-path="url(#cm)"/>
<path d="M83.47,138.89 L88.87,138.89 L86.17,133.29 Z" fill="#0000ff" clip-path="url(#cm)"/>
<path d="M97.05,131.45 L102.45,131.45 L99.75,125.85 Z" fill="#0000ff" clip-path="url(#cm)"/>
<path d="M110.64,123.36 L116.04,123.36 L113.34,117.76 Z" fill="#0000ff" clip-path="url(#cm)"/>
<path d="M124.23,121.19 L129.62,121.19 L126.93,115.59 Z" fill="#0000ff" clip-path="url(#cm)"/>
<path d="M137.81,118.90 L143.21,118.90 L140.51,113.30 Z" fill="#0000ff" clip-path="url(#cm)"/>
<path d="M151.40,119.19 L156.79,119.19 L154.09,113.59 Z" fill="#0000ff" clip-path="url(#cm)"/>
<path d="M164.98,120.72 L170.38,120.72 L167.68,115.12 Z" fill="#0000ff" clip-path="url(#cm)"/>
<path d="M178.57,123.24 L183.97,123.24 L181.27,117.64 Z" fill="#0000ff" clip-path="url(#cm)"/>
<path d="M192.15,129.26 L197.55,129.26 L194.85,123.66 Z" fill="#0000ff" clip-path="url(#cm)"/>
<path d="M205.74,129.51 L211.13,129.51 L208.44,123.91 Z" fill="#0000ff" clip-path="url(#cm)"/>
<path d="M219.32,139.94 L224.72,139.94 L222.02,134.34 Z" fill="#0000ff" clip-path="url(#cm)"/>
<path d="M232.91,145.82 L238.31,145.82 L235.61,140.22 Z" fill="#0000ff" clip-path="url(#cm)"/>
<path d="M246.49,155.53 L251.89,155.53 L249.19,149.94 Z" fill="#0000ff" clip-path="url(#cm)"/>
<path d="M260.07,164.01 L265.47,164.01 L262.77,158.41 Z" fill="#0000ff" clip-path="url(#cm)"/>
<path d="M273.66,170.51 L279.06,170.51 L276.36,164.91 Z" fill="#0000ff" clip-path="url(#cm)"/>
<path d="M287.25,185.06 L292.65,185.06 L289.95,179.46 Z" fill="#0000ff" clip-path="url(#cm)"/>
<path d="M300.83,193.74 L306.23,193.74 L303.53,188.14 Z" fill="#0000ff" clip-path="url(#cm)"/>
<path d="M314.42,210.05 L319.81,210.05 L317.12,204.45 Z" fill="#0000ff" clip-path="url(#cm)"/>
<path d="M328.00,219.92 L333.40,219.92 L330.70,214.32 Z" fill="#0000ff" clip-path="url(#cm)"/>
<path d="M341.59,231.73 L346.99,231.73 L344.29,226.13 Z" fill="#0000ff" clip-path="url(#cm)"/>
<path d="M355.17,241.37 L360.57,241.37 L357.87,235.77 Z" fill="#0000ff" clip-path="url(#cm)"/>
<polyline points="59.00,393.90 72.59,412.70 86.17,406.40 99.75,410.60 113.34,396.30 126.93,399.50 140.51,403.10 154.09,397.40 167.68,400.50 181.27,388.30 194.85,395.50 208.44,383.20 222.02,377.70 235.61,392.30 249.19,390.00 262.77,400.80 276.36,416.50 289.95,387.80 303.53,390.50 317.12,373.40 330.70,410.00 344.29,372.80 357.87,469.10" fill="none" stroke="#b35900" stroke-width="1.1" stroke-dasharray="2.5,1.8" clip-path="url(#cr)"/>
<g stroke="#b35900" stroke-width="1" clip-path="url(#cr)"><line x1="59.00" y1="387.56" x2="59.00" y2="400.73" stroke-dasharray="2.5,1.8"/><line x1="57.40" y1="387.56" x2="60.60" y2="387.56"/><line x1="57.40" y1="400.73" x2="60.60" y2="400.73"/></g>
<g stroke="#b35900" stroke-width="1" clip-path="url(#cr)"><line x1="72.59" y1="411.40" x2="72.59" y2="414.02" stroke-dasharray="2.5,1.8"/><line x1="70.99" y1="411.40" x2="74.19" y2="411.40"/><line x1="70.99" y1="414.02" x2="74.19" y2="414.02"/></g>
<g stroke="#b35900" stroke-width="1" clip-path="url(#cr)"><line x1="86.17" y1="405.36" x2="86.17" y2="407.46" stroke-dasharray="2.5,1.8"/><line x1="84.57" y1="405.36" x2="87.77" y2="405.36"/><line x1="84.57" y1="407.46" x2="87.77" y2="407.46"/></g>
<g stroke="#b35900" stroke-width="1" clip-path="url(#cr)"><line x1="99.75" y1="409.56" x2="99.75" y2="411.66" stroke-dasharray="2.5,1.8"/><line x1="98.16" y1="409.56" x2="101.35" y2="409.56"/><line x1="98.16" y1="411.66" x2="101.35" y2="411.66"/></g>
<g stroke="#b35900" stroke-width="1" clip-path="url(#cr)"><line x1="113.34" y1="395.26" x2="113.34" y2="397.36" stroke-dasharray="2.5,1.8"/><line x1="111.74" y1="395.26" x2="114.94" y2="395.26"/><line x1="111.74" y1="397.36" x2="114.94" y2="397.36"/></g>
<g stroke="#b35900" stroke-width="1" clip-path="url(#cr)"><line x1="126.93" y1="398.46" x2="126.93" y2="400.56" stroke-dasharray="2.5,1.8"/><line x1="125.33" y1="398.46" x2="128.53" y2="398.46"/><line x1="125.33" y1="400.56" x2="128.53" y2="400.56"/></g>
<g stroke="#b35900" stroke-width="1" clip-path="url(#cr)"><line x1="140.51" y1="401.80" x2="140.51" y2="404.42" stroke-dasharray="2.5,1.8"/><line x1="138.91" y1="401.80" x2="142.11" y2="401.80"/><line x1="138.91" y1="404.42" x2="142.11" y2="404.42"/></g>
<g stroke="#b35900" stroke-width="1" clip-path="url(#cr)"><line x1="154.09" y1="396.10" x2="154.09" y2="398.72" stroke-dasharray="2.5,1.8"/><line x1="152.50" y1="396.10" x2="155.69" y2="396.10"/><line x1="152.50" y1="398.72" x2="155.69" y2="398.72"/></g>
<g stroke="#b35900" stroke-width="1" clip-path="url(#cr)"><line x1="167.68" y1="398.77" x2="167.68" y2="402.27" stroke-dasharray="2.5,1.8"/><line x1="166.08" y1="398.77" x2="169.28" y2="398.77"/><line x1="166.08" y1="402.27" x2="169.28" y2="402.27"/></g>
<g stroke="#b35900" stroke-width="1" clip-path="url(#cr)"><line x1="181.27" y1="386.57" x2="181.27" y2="390.07" stroke-dasharray="2.5,1.8"/><line x1="179.67" y1="386.57" x2="182.87" y2="386.57"/><line x1="179.67" y1="390.07" x2="182.87" y2="390.07"/></g>
<g stroke="#b35900" stroke-width="1" clip-path="url(#cr)"><line x1="194.85" y1="393.34" x2="194.85" y2="397.72" stroke-dasharray="2.5,1.8"/><line x1="193.25" y1="393.34" x2="196.45" y2="393.34"/><line x1="193.25" y1="397.72" x2="196.45" y2="397.72"/></g>
<g stroke="#b35900" stroke-width="1" clip-path="url(#cr)"><line x1="208.44" y1="380.61" x2="208.44" y2="385.87" stroke-dasharray="2.5,1.8"/><line x1="206.84" y1="380.61" x2="210.03" y2="380.61"/><line x1="206.84" y1="385.87" x2="210.03" y2="385.87"/></g>
<g stroke="#b35900" stroke-width="1" clip-path="url(#cr)"><line x1="222.02" y1="374.69" x2="222.02" y2="380.82" stroke-dasharray="2.5,1.8"/><line x1="220.42" y1="374.69" x2="223.62" y2="374.69"/><line x1="220.42" y1="380.82" x2="223.62" y2="380.82"/></g>
<g stroke="#b35900" stroke-width="1" clip-path="url(#cr)"><line x1="235.61" y1="388.86" x2="235.61" y2="395.88" stroke-dasharray="2.5,1.8"/><line x1="234.01" y1="388.86" x2="237.21" y2="388.86"/><line x1="234.01" y1="395.88" x2="237.21" y2="395.88"/></g>
<g stroke="#b35900" stroke-width="1" clip-path="url(#cr)"><line x1="249.19" y1="386.56" x2="249.19" y2="393.58" stroke-dasharray="2.5,1.8"/><line x1="247.59" y1="386.56" x2="250.79" y2="386.56"/><line x1="247.59" y1="393.58" x2="250.79" y2="393.58"/></g>
<g stroke="#b35900" stroke-width="1" clip-path="url(#cr)"><line x1="262.77" y1="397.03" x2="262.77" y2="404.74" stroke-dasharray="2.5,1.8"/><line x1="261.17" y1="397.03" x2="264.38" y2="397.03"/><line x1="261.17" y1="404.74" x2="264.38" y2="404.74"/></g>
<g stroke="#b35900" stroke-width="1" clip-path="url(#cr)"><line x1="276.36" y1="412.06" x2="276.36" y2="421.18" stroke-dasharray="2.5,1.8"/><line x1="274.76" y1="412.06" x2="277.96" y2="412.06"/><line x1="274.76" y1="421.18" x2="277.96" y2="421.18"/></g>
<g stroke="#b35900" stroke-width="1" clip-path="url(#cr)"><line x1="289.95" y1="382.04" x2="289.95" y2="393.97" stroke-dasharray="2.5,1.8"/><line x1="288.35" y1="382.04" x2="291.55" y2="382.04"/><line x1="288.35" y1="393.97" x2="291.55" y2="393.97"/></g>
<g stroke="#b35900" stroke-width="1" clip-path="url(#cr)"><line x1="303.53" y1="383.76" x2="303.53" y2="397.80" stroke-dasharray="2.5,1.8"/><line x1="301.93" y1="383.76" x2="305.13" y2="383.76"/><line x1="301.93" y1="397.80" x2="305.13" y2="397.80"/></g>
<g stroke="#b35900" stroke-width="1" clip-path="url(#cr)"><line x1="317.12" y1="365.85" x2="317.12" y2="381.66" stroke-dasharray="2.5,1.8"/><line x1="315.51" y1="365.85" x2="318.72" y2="365.85"/><line x1="315.51" y1="381.66" x2="318.72" y2="381.66"/></g>
<g stroke="#b35900" stroke-width="1" clip-path="url(#cr)"><line x1="330.70" y1="397.76" x2="330.70" y2="424.24" stroke-dasharray="2.5,1.8"/><line x1="329.10" y1="397.76" x2="332.30" y2="397.76"/><line x1="329.10" y1="424.24" x2="332.30" y2="424.24"/></g>
<g stroke="#b35900" stroke-width="1" clip-path="url(#cr)"><line x1="344.29" y1="362.87" x2="344.29" y2="384.00" stroke-dasharray="2.5,1.8"/><line x1="342.69" y1="362.87" x2="345.89" y2="362.87"/><line x1="342.69" y1="384.00" x2="345.89" y2="384.00"/></g>
<g stroke="#b35900" stroke-width="1" clip-path="url(#cr)"><line x1="357.87" y1="455.35" x2="357.87" y2="485.42" stroke-dasharray="2.5,1.8"/><line x1="356.27" y1="455.35" x2="359.47" y2="455.35"/><line x1="356.27" y1="485.42" x2="359.47" y2="485.42"/></g>
<circle cx="59.00" cy="393.90" r="2.55" fill="none" stroke="#b35900" stroke-width="1.1" clip-path="url(#cr)"/>
<circle cx="72.59" cy="412.70" r="2.55" fill="none" stroke="#b35900" stroke-width="1.1" clip-path="url(#cr)"/>
<circle cx="86.17" cy="406.40" r="2.55" fill="none" stroke="#b35900" stroke-width="1.1" clip-path="url(#cr)"/>
<circle cx="99.75" cy="410.60" r="2.55" fill="none" stroke="#b35900" stroke-width="1.1" clip-path="url(#cr)"/>
<circle cx="113.34" cy="396.30" r="2.55" fill="none" stroke="#b35900" stroke-width="1.1" clip-path="url(#cr)"/>
<circle cx="126.93" cy="399.50" r="2.55" fill="none" stroke="#b35900" stroke-width="1.1" clip-path="url(#cr)"/>
<circle cx="140.51" cy="403.10" r="2.55" fill="none" stroke="#b35900" stroke-width="1.1" clip-path="url(#cr)"/>
<circle cx="154.09" cy="397.40" r="2.55" fill="none" stroke="#b35900" stroke-width="1.1" clip-path="url(#cr)"/>
<circle cx="167.68" cy="400.50" r="2.55" fill="none" stroke="#b35900" stroke-width="1.1" clip-path="url(#cr)"/>
<circle cx="181.27" cy="388.30" r="2.55" fill="none" stroke="#b35900" stroke-width="1.1" clip-path="url(#cr)"/>
<circle cx="194.85" cy="395.50" r="2.55" fill="none" stroke="#b35900" stroke-width="1.1" clip-path="url(#cr)"/>
<circle cx="208.44" cy="383.20" r="2.55" fill="none" stroke="#b35900" stroke-width="1.1" clip-path="url(#cr)"/>
<circle cx="222.02" cy="377.70" r="2.55" fill="none" stroke="#b35900" stroke-width="1.1" clip-path="url(#cr)"/>
<circle cx="235.61" cy="392.30" r="2.55" fill="none" stroke="#b35900" stroke-width="1.1" clip-path="url(#cr)"/>
<circle cx="249.19" cy="390.00" r="2.55" fill="none" stroke="#b35900" stroke-width="1.1" clip-path="url(#cr)"/>
<circle cx="262.77" cy="400.80" r="2.55" fill="none" stroke="#b35900" stroke-width="1.1" clip-path="url(#cr)"/>
<circle cx="276.36" cy="416.50" r="2.55" fill="none" stroke="#b35900" stroke-width="1.1" clip-path="url(#cr)"/>
<circle cx="289.95" cy="387.80" r="2.55" fill="none" stroke="#b35900" stroke-width="1.1" clip-path="url(#cr)"/>
<circle cx="303.53" cy="390.50" r="2.55" fill="none" stroke="#b35900" stroke-width="1.1" clip-path="url(#cr)"/>
<circle cx="317.12" cy="373.40" r="2.55" fill="none" stroke="#b35900" stroke-width="1.1" clip-path="url(#cr)"/>
<circle cx="330.70" cy="410.00" r="2.55" fill="none" stroke="#b35900" stroke-width="1.1" clip-path="url(#cr)"/>
<circle cx="344.29" cy="372.80" r="2.55" fill="none" stroke="#b35900" stroke-width="1.1" clip-path="url(#cr)"/>
<circle cx="357.87" cy="469.10" r="2.55" fill="none" stroke="#b35900" stroke-width="1.1" clip-path="url(#cr)"/>
<polyline points="59.00,342.50 72.59,366.20 86.17,372.00 99.75,375.80 113.34,365.30 126.93,379.00 140.51,386.10 154.09,392.00 167.68,399.00 181.27,402.20 194.85,418.90 208.44,409.30 222.02,418.00 235.61,443.00 249.19,453.40 262.77,494.84 276.36,495.94 289.95,487.68 303.53,496.21 317.12,524.00 330.70,525.37 344.29,525.92 357.87,563.61" fill="none" stroke="#339933" stroke-width="1.1" stroke-dasharray="2.5,1.8" clip-path="url(#cr)"/>
<g stroke="#339933" stroke-width="1" clip-path="url(#cr)"><line x1="59.00" y1="336.82" x2="59.00" y2="348.57" stroke-dasharray="2.5,1.8"/><line x1="57.40" y1="336.82" x2="60.60" y2="336.82"/><line x1="57.40" y1="348.57" x2="60.60" y2="348.57"/></g>
<g stroke="#339933" stroke-width="1" clip-path="url(#cr)"><line x1="72.59" y1="364.47" x2="72.59" y2="367.97" stroke-dasharray="2.5,1.8"/><line x1="70.99" y1="364.47" x2="74.19" y2="364.47"/><line x1="70.99" y1="367.97" x2="74.19" y2="367.97"/></g>
<g stroke="#339933" stroke-width="1" clip-path="url(#cr)"><line x1="86.17" y1="370.70" x2="86.17" y2="373.32" stroke-dasharray="2.5,1.8"/><line x1="84.57" y1="370.70" x2="87.77" y2="370.70"/><line x1="84.57" y1="373.32" x2="87.77" y2="373.32"/></g>
<g stroke="#339933" stroke-width="1" clip-path="url(#cr)"><line x1="99.75" y1="374.50" x2="99.75" y2="377.12" stroke-dasharray="2.5,1.8"/><line x1="98.16" y1="374.50" x2="101.35" y2="374.50"/><line x1="98.16" y1="377.12" x2="101.35" y2="377.12"/></g>
<g stroke="#339933" stroke-width="1" clip-path="url(#cr)"><line x1="113.34" y1="364.00" x2="113.34" y2="366.62" stroke-dasharray="2.5,1.8"/><line x1="111.74" y1="364.00" x2="114.94" y2="364.00"/><line x1="111.74" y1="366.62" x2="114.94" y2="366.62"/></g>
<g stroke="#339933" stroke-width="1" clip-path="url(#cr)"><line x1="126.93" y1="377.27" x2="126.93" y2="380.77" stroke-dasharray="2.5,1.8"/><line x1="125.33" y1="377.27" x2="128.53" y2="377.27"/><line x1="125.33" y1="380.77" x2="128.53" y2="380.77"/></g>
<g stroke="#339933" stroke-width="1" clip-path="url(#cr)"><line x1="140.51" y1="384.37" x2="140.51" y2="387.87" stroke-dasharray="2.5,1.8"/><line x1="138.91" y1="384.37" x2="142.11" y2="384.37"/><line x1="138.91" y1="387.87" x2="142.11" y2="387.87"/></g>
<g stroke="#339933" stroke-width="1" clip-path="url(#cr)"><line x1="154.09" y1="390.27" x2="154.09" y2="393.77" stroke-dasharray="2.5,1.8"/><line x1="152.50" y1="390.27" x2="155.69" y2="390.27"/><line x1="152.50" y1="393.77" x2="155.69" y2="393.77"/></g>
<g stroke="#339933" stroke-width="1" clip-path="url(#cr)"><line x1="167.68" y1="396.84" x2="167.68" y2="401.22" stroke-dasharray="2.5,1.8"/><line x1="166.08" y1="396.84" x2="169.28" y2="396.84"/><line x1="166.08" y1="401.22" x2="169.28" y2="401.22"/></g>
<g stroke="#339933" stroke-width="1" clip-path="url(#cr)"><line x1="181.27" y1="400.04" x2="181.27" y2="404.42" stroke-dasharray="2.5,1.8"/><line x1="179.67" y1="400.04" x2="182.87" y2="400.04"/><line x1="179.67" y1="404.42" x2="182.87" y2="404.42"/></g>
<g stroke="#339933" stroke-width="1" clip-path="url(#cr)"><line x1="194.85" y1="415.89" x2="194.85" y2="422.02" stroke-dasharray="2.5,1.8"/><line x1="193.25" y1="415.89" x2="196.45" y2="415.89"/><line x1="193.25" y1="422.02" x2="196.45" y2="422.02"/></g>
<g stroke="#339933" stroke-width="1" clip-path="url(#cr)"><line x1="208.44" y1="406.29" x2="208.44" y2="412.42" stroke-dasharray="2.5,1.8"/><line x1="206.84" y1="406.29" x2="210.03" y2="406.29"/><line x1="206.84" y1="412.42" x2="210.03" y2="412.42"/></g>
<g stroke="#339933" stroke-width="1" clip-path="url(#cr)"><line x1="222.02" y1="414.56" x2="222.02" y2="421.58" stroke-dasharray="2.5,1.8"/><line x1="220.42" y1="414.56" x2="223.62" y2="414.56"/><line x1="220.42" y1="421.58" x2="223.62" y2="421.58"/></g>
<g stroke="#339933" stroke-width="1" clip-path="url(#cr)"><line x1="235.61" y1="438.73" x2="235.61" y2="447.49" stroke-dasharray="2.5,1.8"/><line x1="234.01" y1="438.73" x2="237.21" y2="438.73"/><line x1="234.01" y1="447.49" x2="237.21" y2="447.49"/></g>
<g stroke="#339933" stroke-width="1" clip-path="url(#cr)"><line x1="249.19" y1="448.30" x2="249.19" y2="458.82" stroke-dasharray="2.5,1.8"/><line x1="247.59" y1="448.30" x2="250.79" y2="448.30"/><line x1="247.59" y1="458.82" x2="250.79" y2="458.82"/></g>
<rect x="56.50" y="340.00" width="5" height="5" fill="none" stroke="#339933" stroke-width="1.1" clip-path="url(#cr)"/>
<rect x="70.09" y="363.70" width="5" height="5" fill="none" stroke="#339933" stroke-width="1.1" clip-path="url(#cr)"/>
<rect x="83.67" y="369.50" width="5" height="5" fill="none" stroke="#339933" stroke-width="1.1" clip-path="url(#cr)"/>
<rect x="97.25" y="373.30" width="5" height="5" fill="none" stroke="#339933" stroke-width="1.1" clip-path="url(#cr)"/>
<rect x="110.84" y="362.80" width="5" height="5" fill="none" stroke="#339933" stroke-width="1.1" clip-path="url(#cr)"/>
<rect x="124.43" y="376.50" width="5" height="5" fill="none" stroke="#339933" stroke-width="1.1" clip-path="url(#cr)"/>
<rect x="138.01" y="383.60" width="5" height="5" fill="none" stroke="#339933" stroke-width="1.1" clip-path="url(#cr)"/>
<rect x="151.59" y="389.50" width="5" height="5" fill="none" stroke="#339933" stroke-width="1.1" clip-path="url(#cr)"/>
<rect x="165.18" y="396.50" width="5" height="5" fill="none" stroke="#339933" stroke-width="1.1" clip-path="url(#cr)"/>
<rect x="178.77" y="399.70" width="5" height="5" fill="none" stroke="#339933" stroke-width="1.1" clip-path="url(#cr)"/>
<rect x="192.35" y="416.40" width="5" height="5" fill="none" stroke="#339933" stroke-width="1.1" clip-path="url(#cr)"/>
<rect x="205.94" y="406.80" width="5" height="5" fill="none" stroke="#339933" stroke-width="1.1" clip-path="url(#cr)"/>
<rect x="219.52" y="415.50" width="5" height="5" fill="none" stroke="#339933" stroke-width="1.1" clip-path="url(#cr)"/>
<rect x="233.11" y="440.50" width="5" height="5" fill="none" stroke="#339933" stroke-width="1.1" clip-path="url(#cr)"/>
<rect x="246.69" y="450.90" width="5" height="5" fill="none" stroke="#339933" stroke-width="1.1" clip-path="url(#cr)"/>
<rect x="260.27" y="492.34" width="5" height="5" fill="none" stroke="#339933" stroke-width="1.1" clip-path="url(#cr)"/>
<rect x="273.86" y="493.44" width="5" height="5" fill="none" stroke="#339933" stroke-width="1.1" clip-path="url(#cr)"/>
<rect x="287.45" y="485.18" width="5" height="5" fill="none" stroke="#339933" stroke-width="1.1" clip-path="url(#cr)"/>
<rect x="301.03" y="493.71" width="5" height="5" fill="none" stroke="#339933" stroke-width="1.1" clip-path="url(#cr)"/>
<rect x="314.62" y="521.50" width="5" height="5" fill="none" stroke="#339933" stroke-width="1.1" clip-path="url(#cr)"/>
<rect x="328.20" y="522.87" width="5" height="5" fill="none" stroke="#339933" stroke-width="1.1" clip-path="url(#cr)"/>
<rect x="341.79" y="523.42" width="5" height="5" fill="none" stroke="#339933" stroke-width="1.1" clip-path="url(#cr)"/>
<rect x="355.37" y="561.11" width="5" height="5" fill="none" stroke="#339933" stroke-width="1.1" clip-path="url(#cr)"/>
<polyline points="59.00,366.60 72.59,399.40 86.17,401.00 99.75,406.40 113.34,392.40 126.93,397.70 140.51,398.00 154.09,399.90 167.68,397.50 181.27,389.30 194.85,400.10 208.44,381.80 222.02,389.30 235.61,400.80 249.19,408.00 262.77,410.40 276.36,412.60 289.95,407.80 303.53,403.90 317.12,407.50 330.70,410.70 344.29,408.00 357.87,472.20" fill="none" stroke="#0000ff" stroke-width="1.2" clip-path="url(#cr)"/>
<g stroke="#0000ff" stroke-width="1" clip-path="url(#cr)"><line x1="59.00" y1="362.33" x2="59.00" y2="371.09"/><line x1="57.40" y1="362.33" x2="60.60" y2="362.33"/><line x1="57.40" y1="371.09" x2="60.60" y2="371.09"/></g>
<g stroke="#0000ff" stroke-width="1" clip-path="url(#cr)"><line x1="72.59" y1="398.10" x2="72.59" y2="400.72"/><line x1="70.99" y1="398.10" x2="74.19" y2="398.10"/><line x1="70.99" y1="400.72" x2="74.19" y2="400.72"/></g>
<g stroke="#0000ff" stroke-width="1" clip-path="url(#cr)"><line x1="86.17" y1="399.96" x2="86.17" y2="402.06"/><line x1="84.57" y1="399.96" x2="87.77" y2="399.96"/><line x1="84.57" y1="402.06" x2="87.77" y2="402.06"/></g>
<g stroke="#0000ff" stroke-width="1" clip-path="url(#cr)"><line x1="99.75" y1="405.36" x2="99.75" y2="407.46"/><line x1="98.16" y1="405.36" x2="101.35" y2="405.36"/><line x1="98.16" y1="407.46" x2="101.35" y2="407.46"/></g>
<g stroke="#0000ff" stroke-width="1" clip-path="url(#cr)"><line x1="113.34" y1="391.36" x2="113.34" y2="393.46"/><line x1="111.74" y1="391.36" x2="114.94" y2="391.36"/><line x1="111.74" y1="393.46" x2="114.94" y2="393.46"/></g>
<g stroke="#0000ff" stroke-width="1" clip-path="url(#cr)"><line x1="126.93" y1="396.66" x2="126.93" y2="398.76"/><line x1="125.33" y1="396.66" x2="128.53" y2="396.66"/><line x1="125.33" y1="398.76" x2="128.53" y2="398.76"/></g>
<g stroke="#0000ff" stroke-width="1" clip-path="url(#cr)"><line x1="140.51" y1="396.96" x2="140.51" y2="399.06"/><line x1="138.91" y1="396.96" x2="142.11" y2="396.96"/><line x1="138.91" y1="399.06" x2="142.11" y2="399.06"/></g>
<g stroke="#0000ff" stroke-width="1" clip-path="url(#cr)"><line x1="154.09" y1="398.86" x2="154.09" y2="400.96"/><line x1="152.50" y1="398.86" x2="155.69" y2="398.86"/><line x1="152.50" y1="400.96" x2="155.69" y2="400.96"/></g>
<g stroke="#0000ff" stroke-width="1" clip-path="url(#cr)"><line x1="167.68" y1="396.20" x2="167.68" y2="398.82"/><line x1="166.08" y1="396.20" x2="169.28" y2="396.20"/><line x1="166.08" y1="398.82" x2="169.28" y2="398.82"/></g>
<g stroke="#0000ff" stroke-width="1" clip-path="url(#cr)"><line x1="181.27" y1="388.00" x2="181.27" y2="390.62"/><line x1="179.67" y1="388.00" x2="182.87" y2="388.00"/><line x1="179.67" y1="390.62" x2="182.87" y2="390.62"/></g>
<g stroke="#0000ff" stroke-width="1" clip-path="url(#cr)"><line x1="194.85" y1="398.37" x2="194.85" y2="401.87"/><line x1="193.25" y1="398.37" x2="196.45" y2="398.37"/><line x1="193.25" y1="401.87" x2="196.45" y2="401.87"/></g>
<g stroke="#0000ff" stroke-width="1" clip-path="url(#cr)"><line x1="208.44" y1="380.07" x2="208.44" y2="383.57"/><line x1="206.84" y1="380.07" x2="210.03" y2="380.07"/><line x1="206.84" y1="383.57" x2="210.03" y2="383.57"/></g>
<g stroke="#0000ff" stroke-width="1" clip-path="url(#cr)"><line x1="222.02" y1="387.14" x2="222.02" y2="391.52"/><line x1="220.42" y1="387.14" x2="223.62" y2="387.14"/><line x1="220.42" y1="391.52" x2="223.62" y2="391.52"/></g>
<g stroke="#0000ff" stroke-width="1" clip-path="url(#cr)"><line x1="235.61" y1="397.79" x2="235.61" y2="403.92"/><line x1="234.01" y1="397.79" x2="237.21" y2="397.79"/><line x1="234.01" y1="403.92" x2="237.21" y2="403.92"/></g>
<g stroke="#0000ff" stroke-width="1" clip-path="url(#cr)"><line x1="249.19" y1="404.23" x2="249.19" y2="411.94"/><line x1="247.59" y1="404.23" x2="250.79" y2="404.23"/><line x1="247.59" y1="411.94" x2="250.79" y2="411.94"/></g>
<g stroke="#0000ff" stroke-width="1" clip-path="url(#cr)"><line x1="262.77" y1="406.21" x2="262.77" y2="414.80"/><line x1="261.17" y1="406.21" x2="264.38" y2="406.21"/><line x1="261.17" y1="414.80" x2="264.38" y2="414.80"/></g>
<g stroke="#0000ff" stroke-width="1" clip-path="url(#cr)"><line x1="276.36" y1="408.33" x2="276.36" y2="417.09"/><line x1="274.76" y1="408.33" x2="277.96" y2="408.33"/><line x1="274.76" y1="417.09" x2="277.96" y2="417.09"/></g>
<g stroke="#0000ff" stroke-width="1" clip-path="url(#cr)"><line x1="289.95" y1="401.55" x2="289.95" y2="414.53"/><line x1="288.35" y1="401.55" x2="291.55" y2="401.55"/><line x1="288.35" y1="414.53" x2="291.55" y2="414.53"/></g>
<g stroke="#0000ff" stroke-width="1" clip-path="url(#cr)"><line x1="303.53" y1="396.75" x2="303.53" y2="411.68"/><line x1="301.93" y1="396.75" x2="305.13" y2="396.75"/><line x1="301.93" y1="411.68" x2="305.13" y2="411.68"/></g>
<g stroke="#0000ff" stroke-width="1" clip-path="url(#cr)"><line x1="317.12" y1="399.15" x2="317.12" y2="416.73"/><line x1="315.51" y1="399.15" x2="318.72" y2="399.15"/><line x1="315.51" y1="416.73" x2="318.72" y2="416.73"/></g>
<g stroke="#0000ff" stroke-width="1" clip-path="url(#cr)"><line x1="330.70" y1="400.77" x2="330.70" y2="421.90"/><line x1="329.10" y1="400.77" x2="332.30" y2="400.77"/><line x1="329.10" y1="421.90" x2="332.30" y2="421.90"/></g>
<g stroke="#0000ff" stroke-width="1" clip-path="url(#cr)"><line x1="344.29" y1="395.76" x2="344.29" y2="422.24"/><line x1="342.69" y1="395.76" x2="345.89" y2="395.76"/><line x1="342.69" y1="422.24" x2="345.89" y2="422.24"/></g>
<g stroke="#0000ff" stroke-width="1" clip-path="url(#cr)"><line x1="357.87" y1="461.49" x2="357.87" y2="484.40"/><line x1="356.27" y1="461.49" x2="359.47" y2="461.49"/><line x1="356.27" y1="484.40" x2="359.47" y2="484.40"/></g>
<path d="M56.30,369.20 L61.70,369.20 L59.00,363.60 Z" fill="#0000ff" clip-path="url(#cr)"/>
<path d="M69.89,402.00 L75.29,402.00 L72.59,396.40 Z" fill="#0000ff" clip-path="url(#cr)"/>
<path d="M83.47,403.60 L88.87,403.60 L86.17,398.00 Z" fill="#0000ff" clip-path="url(#cr)"/>
<path d="M97.05,409.00 L102.45,409.00 L99.75,403.40 Z" fill="#0000ff" clip-path="url(#cr)"/>
<path d="M110.64,395.00 L116.04,395.00 L113.34,389.40 Z" fill="#0000ff" clip-path="url(#cr)"/>
<path d="M124.23,400.30 L129.62,400.30 L126.93,394.70 Z" fill="#0000ff" clip-path="url(#cr)"/>
<path d="M137.81,400.60 L143.21,400.60 L140.51,395.00 Z" fill="#0000ff" clip-path="url(#cr)"/>
<path d="M151.40,402.50 L156.79,402.50 L154.09,396.90 Z" fill="#0000ff" clip-path="url(#cr)"/>
<path d="M164.98,400.10 L170.38,400.10 L167.68,394.50 Z" fill="#0000ff" clip-path="url(#cr)"/>
<path d="M178.57,391.90 L183.97,391.90 L181.27,386.30 Z" fill="#0000ff" clip-path="url(#cr)"/>
<path d="M192.15,402.70 L197.55,402.70 L194.85,397.10 Z" fill="#0000ff" clip-path="url(#cr)"/>
<path d="M205.74,384.40 L211.13,384.40 L208.44,378.80 Z" fill="#0000ff" clip-path="url(#cr)"/>
<path d="M219.32,391.90 L224.72,391.90 L222.02,386.30 Z" fill="#0000ff" clip-path="url(#cr)"/>
<path d="M232.91,403.40 L238.31,403.40 L235.61,397.80 Z" fill="#0000ff" clip-path="url(#cr)"/>
<path d="M246.49,410.60 L251.89,410.60 L249.19,405.00 Z" fill="#0000ff" clip-path="url(#cr)"/>
<path d="M260.07,413.00 L265.47,413.00 L262.77,407.40 Z" fill="#0000ff" clip-path="url(#cr)"/>
<path d="M273.66,415.20 L279.06,415.20 L276.36,409.60 Z" fill="#0000ff" clip-path="url(#cr)"/>
<path d="M287.25,410.40 L292.65,410.40 L289.95,404.80 Z" fill="#0000ff" clip-path="url(#cr)"/>
<path d="M300.83,406.50 L306.23,406.50 L303.53,400.90 Z" fill="#0000ff" clip-path="url(#cr)"/>
<path d="M314.42,410.10 L319.81,410.10 L317.12,404.50 Z" fill="#0000ff" clip-path="url(#cr)"/>
<path d="M328.00,413.30 L333.40,413.30 L330.70,407.70 Z" fill="#0000ff" clip-path="url(#cr)"/>
<path d="M341.59,410.60 L346.99,410.60 L344.29,405.00 Z" fill="#0000ff" clip-path="url(#cr)"/>
<path d="M355.17,474.80 L360.57,474.80 L357.87,469.20 Z" fill="#0000ff" clip-path="url(#cr)"/>
<g stroke="#000" fill="none">
<rect x="45.5" y="17.5" width="326.0" height="300.0" stroke-width="1.1"/>
<rect x="45.5" y="317.5" width="326.0" height="160.0" stroke-width="1.1"/>
<line x1="45.0" y1="478" x2="372.0" y2="478" stroke-width="2"/>
<line x1="51.89" y1="17.5" x2="51.89" y2="19.5" stroke-width="1"/>
<line x1="51.89" y1="317.5" x2="51.89" y2="315.5" stroke-width="1"/>
<line x1="51.89" y1="317.5" x2="51.89" y2="319.0" stroke-width="1"/>
<line x1="51.89" y1="477.5" x2="51.89" y2="476.0" stroke-width="1"/>
<line x1="59.00" y1="17.5" x2="59.00" y2="25.5" stroke-width="1"/>
<line x1="59.00" y1="317.5" x2="59.00" y2="309.5" stroke-width="1"/>
<line x1="59.00" y1="317.5" x2="59.00" y2="322.5" stroke-width="1"/>
<line x1="59.00" y1="477.5" x2="59.00" y2="472.5" stroke-width="1"/>
<line x1="66.11" y1="17.5" x2="66.11" y2="19.5" stroke-width="1"/>
<line x1="66.11" y1="317.5" x2="66.11" y2="315.5" stroke-width="1"/>
<line x1="66.11" y1="317.5" x2="66.11" y2="319.0" stroke-width="1"/>
<line x1="66.11" y1="477.5" x2="66.11" y2="476.0" stroke-width="1"/>
<line x1="73.22" y1="17.5" x2="73.22" y2="21.5" stroke-width="1"/>
<line x1="73.22" y1="317.5" x2="73.22" y2="313.5" stroke-width="1"/>
<line x1="73.22" y1="317.5" x2="73.22" y2="320.0" stroke-width="1"/>
<line x1="73.22" y1="477.5" x2="73.22" y2="475.0" stroke-width="1"/>
<line x1="80.34" y1="17.5" x2="80.34" y2="19.5" stroke-width="1"/>
<line x1="80.34" y1="317.5" x2="80.34" y2="315.5" stroke-width="1"/>
<line x1="80.34" y1="317.5" x2="80.34" y2="319.0" stroke-width="1"/>
<line x1="80.34" y1="477.5" x2="80.34" y2="476.0" stroke-width="1"/>
<line x1="87.45" y1="17.5" x2="87.45" y2="21.5" stroke-width="1"/>
<line x1="87.45" y1="317.5" x2="87.45" y2="313.5" stroke-width="1"/>
<line x1="87.45" y1="317.5" x2="87.45" y2="320.0" stroke-width="1"/>
<line x1="87.45" y1="477.5" x2="87.45" y2="475.0" stroke-width="1"/>
<line x1="94.56" y1="17.5" x2="94.56" y2="19.5" stroke-width="1"/>
<line x1="94.56" y1="317.5" x2="94.56" y2="315.5" stroke-width="1"/>
<line x1="94.56" y1="317.5" x2="94.56" y2="319.0" stroke-width="1"/>
<line x1="94.56" y1="477.5" x2="94.56" y2="476.0" stroke-width="1"/>
<line x1="101.67" y1="17.5" x2="101.67" y2="21.5" stroke-width="1"/>
<line x1="101.67" y1="317.5" x2="101.67" y2="313.5" stroke-width="1"/>
<line x1="101.67" y1="317.5" x2="101.67" y2="320.0" stroke-width="1"/>
<line x1="101.67" y1="477.5" x2="101.67" y2="475.0" stroke-width="1"/>
<line x1="108.79" y1="17.5" x2="108.79" y2="19.5" stroke-width="1"/>
<line x1="108.79" y1="317.5" x2="108.79" y2="315.5" stroke-width="1"/>
<line x1="108.79" y1="317.5" x2="108.79" y2="319.0" stroke-width="1"/>
<line x1="108.79" y1="477.5" x2="108.79" y2="476.0" stroke-width="1"/>
<line x1="115.90" y1="17.5" x2="115.90" y2="21.5" stroke-width="1"/>
<line x1="115.90" y1="317.5" x2="115.90" y2="313.5" stroke-width="1"/>
<line x1="115.90" y1="317.5" x2="115.90" y2="320.0" stroke-width="1"/>
<line x1="115.90" y1="477.5" x2="115.90" y2="475.0" stroke-width="1"/>
<line x1="123.01" y1="17.5" x2="123.01" y2="19.5" stroke-width="1"/>
<line x1="123.01" y1="317.5" x2="123.01" y2="315.5" stroke-width="1"/>
<line x1="123.01" y1="317.5" x2="123.01" y2="319.0" stroke-width="1"/>
<line x1="123.01" y1="477.5" x2="123.01" y2="476.0" stroke-width="1"/>
<line x1="130.12" y1="17.5" x2="130.12" y2="25.5" stroke-width="1"/>
<line x1="130.12" y1="317.5" x2="130.12" y2="309.5" stroke-width="1"/>
<line x1="130.12" y1="317.5" x2="130.12" y2="322.5" stroke-width="1"/>
<line x1="130.12" y1="477.5" x2="130.12" y2="472.5" stroke-width="1"/>
<line x1="137.24" y1="17.5" x2="137.24" y2="19.5" stroke-width="1"/>
<line x1="137.24" y1="317.5" x2="137.24" y2="315.5" stroke-width="1"/>
<line x1="137.24" y1="317.5" x2="137.24" y2="319.0" stroke-width="1"/>
<line x1="137.24" y1="477.5" x2="137.24" y2="476.0" stroke-width="1"/>
<line x1="144.35" y1="17.5" x2="144.35" y2="21.5" stroke-width="1"/>
<line x1="144.35" y1="317.5" x2="144.35" y2="313.5" stroke-width="1"/>
<line x1="144.35" y1="317.5" x2="144.35" y2="320.0" stroke-width="1"/>
<line x1="144.35" y1="477.5" x2="144.35" y2="475.0" stroke-width="1"/>
<line x1="151.46" y1="17.5" x2="151.46" y2="19.5" stroke-width="1"/>
<line x1="151.46" y1="317.5" x2="151.46" y2="315.5" stroke-width="1"/>
<line x1="151.46" y1="317.5" x2="151.46" y2="319.0" stroke-width="1"/>
<line x1="151.46" y1="477.5" x2="151.46" y2="476.0" stroke-width="1"/>
<line x1="158.57" y1="17.5" x2="158.57" y2="21.5" stroke-width="1"/>
<line x1="158.57" y1="317.5" x2="158.57" y2="313.5" stroke-width="1"/>
<line x1="158.57" y1="317.5" x2="158.57" y2="320.0" stroke-width="1"/>
<line x1="158.57" y1="477.5" x2="158.57" y2="475.0" stroke-width="1"/>
<line x1="165.69" y1="17.5" x2="165.69" y2="19.5" stroke-width="1"/>
<line x1="165.69" y1="317.5" x2="165.69" y2="315.5" stroke-width="1"/>
<line x1="165.69" y1="317.5" x2="165.69" y2="319.0" stroke-width="1"/>
<line x1="165.69" y1="477.5" x2="165.69" y2="476.0" stroke-width="1"/>
<line x1="172.80" y1="17.5" x2="172.80" y2="21.5" stroke-width="1"/>
<line x1="172.80" y1="317.5" x2="172.80" y2="313.5" stroke-width="1"/>
<line x1="172.80" y1="317.5" x2="172.80" y2="320.0" stroke-width="1"/>
<line x1="172.80" y1="477.5" x2="172.80" y2="475.0" stroke-width="1"/>
<line x1="179.91" y1="17.5" x2="179.91" y2="19.5" stroke-width="1"/>
<line x1="179.91" y1="317.5" x2="179.91" y2="315.5" stroke-width="1"/>
<line x1="179.91" y1="317.5" x2="179.91" y2="319.0" stroke-width="1"/>
<line x1="179.91" y1="477.5" x2="179.91" y2="476.0" stroke-width="1"/>
<line x1="187.03" y1="17.5" x2="187.03" y2="21.5" stroke-width="1"/>
<line x1="187.03" y1="317.5" x2="187.03" y2="313.5" stroke-width="1"/>
<line x1="187.03" y1="317.5" x2="187.03" y2="320.0" stroke-width="1"/>
<line x1="187.03" y1="477.5" x2="187.03" y2="475.0" stroke-width="1"/>
<line x1="194.14" y1="17.5" x2="194.14" y2="19.5" stroke-width="1"/>
<line x1="194.14" y1="317.5" x2="194.14" y2="315.5" stroke-width="1"/>
<line x1="194.14" y1="317.5" x2="194.14" y2="319.0" stroke-width="1"/>
<line x1="194.14" y1="477.5" x2="194.14" y2="476.0" stroke-width="1"/>
<line x1="201.25" y1="17.5" x2="201.25" y2="25.5" stroke-width="1"/>
<line x1="201.25" y1="317.5" x2="201.25" y2="309.5" stroke-width="1"/>
<line x1="201.25" y1="317.5" x2="201.25" y2="322.5" stroke-width="1"/>
<line x1="201.25" y1="477.5" x2="201.25" y2="472.5" stroke-width="1"/>
<line x1="208.36" y1="17.5" x2="208.36" y2="19.5" stroke-width="1"/>
<line x1="208.36" y1="317.5" x2="208.36" y2="315.5" stroke-width="1"/>
<line x1="208.36" y1="317.5" x2="208.36" y2="319.0" stroke-width="1"/>
<line x1="208.36" y1="477.5" x2="208.36" y2="476.0" stroke-width="1"/>
<line x1="215.48" y1="17.5" x2="215.48" y2="21.5" stroke-width="1"/>
<line x1="215.48" y1="317.5" x2="215.48" y2="313.5" stroke-width="1"/>
<line x1="215.48" y1="317.5" x2="215.48" y2="320.0" stroke-width="1"/>
<line x1="215.48" y1="477.5" x2="215.48" y2="475.0" stroke-width="1"/>
<line x1="222.59" y1="17.5" x2="222.59" y2="19.5" stroke-width="1"/>
<line x1="222.59" y1="317.5" x2="222.59" y2="315.5" stroke-width="1"/>
<line x1="222.59" y1="317.5" x2="222.59" y2="319.0" stroke-width="1"/>
<line x1="222.59" y1="477.5" x2="222.59" y2="476.0" stroke-width="1"/>
<line x1="229.70" y1="17.5" x2="229.70" y2="21.5" stroke-width="1"/>
<line x1="229.70" y1="317.5" x2="229.70" y2="313.5" stroke-width="1"/>
<line x1="229.70" y1="317.5" x2="229.70" y2="320.0" stroke-width="1"/>
<line x1="229.70" y1="477.5" x2="229.70" y2="475.0" stroke-width="1"/>
<line x1="236.81" y1="17.5" x2="236.81" y2="19.5" stroke-width="1"/>
<line x1="236.81" y1="317.5" x2="236.81" y2="315.5" stroke-width="1"/>
<line x1="236.81" y1="317.5" x2="236.81" y2="319.0" stroke-width="1"/>
<line x1="236.81" y1="477.5" x2="236.81" y2="476.0" stroke-width="1"/>
<line x1="243.93" y1="17.5" x2="243.93" y2="21.5" stroke-width="1"/>
<line x1="243.93" y1="317.5" x2="243.93" y2="313.5" stroke-width="1"/>
<line x1="243.93" y1="317.5" x2="243.93" y2="320.0" stroke-width="1"/>
<line x1="243.93" y1="477.5" x2="243.93" y2="475.0" stroke-width="1"/>
<line x1="251.04" y1="17.5" x2="251.04" y2="19.5" stroke-width="1"/>
<line x1="251.04" y1="317.5" x2="251.04" y2="315.5" stroke-width="1"/>
<line x1="251.04" y1="317.5" x2="251.04" y2="319.0" stroke-width="1"/>
<line x1="251.04" y1="477.5" x2="251.04" y2="476.0" stroke-width="1"/>
<line x1="258.15" y1="17.5" x2="258.15" y2="21.5" stroke-width="1"/>
<line x1="258.15" y1="317.5" x2="258.15" y2="313.5" stroke-width="1"/>
<line x1="258.15" y1="317.5" x2="258.15" y2="320.0" stroke-width="1"/>
<line x1="258.15" y1="477.5" x2="258.15" y2="475.0" stroke-width="1"/>
<line x1="265.26" y1="17.5" x2="265.26" y2="19.5" stroke-width="1"/>
<line x1="265.26" y1="317.5" x2="265.26" y2="315.5" stroke-width="1"/>
<line x1="265.26" y1="317.5" x2="265.26" y2="319.0" stroke-width="1"/>
<line x1="265.26" y1="477.5" x2="265.26" y2="476.0" stroke-width="1"/>
<line x1="272.38" y1="17.5" x2="272.38" y2="25.5" stroke-width="1"/>
<line x1="272.38" y1="317.5" x2="272.38" y2="309.5" stroke-width="1"/>
<line x1="272.38" y1="317.5" x2="272.38" y2="322.5" stroke-width="1"/>
<line x1="272.38" y1="477.5" x2="272.38" y2="472.5" stroke-width="1"/>
<line x1="279.49" y1="17.5" x2="279.49" y2="19.5" stroke-width="1"/>
<line x1="279.49" y1="317.5" x2="279.49" y2="315.5" stroke-width="1"/>
<line x1="279.49" y1="317.5" x2="279.49" y2="319.0" stroke-width="1"/>
<line x1="279.49" y1="477.5" x2="279.49" y2="476.0" stroke-width="1"/>
<line x1="286.60" y1="17.5" x2="286.60" y2="21.5" stroke-width="1"/>
<line x1="286.60" y1="317.5" x2="286.60" y2="313.5" stroke-width="1"/>
<line x1="286.60" y1="317.5" x2="286.60" y2="320.0" stroke-width="1"/>
<line x1="286.60" y1="477.5" x2="286.60" y2="475.0" stroke-width="1"/>
<line x1="293.71" y1="17.5" x2="293.71" y2="19.5" stroke-width="1"/>
<line x1="293.71" y1="317.5" x2="293.71" y2="315.5" stroke-width="1"/>
<line x1="293.71" y1="317.5" x2="293.71" y2="319.0" stroke-width="1"/>
<line x1="293.71" y1="477.5" x2="293.71" y2="476.0" stroke-width="1"/>
<line x1="300.82" y1="17.5" x2="300.82" y2="21.5" stroke-width="1"/>
<line x1="300.82" y1="317.5" x2="300.82" y2="313.5" stroke-width="1"/>
<line x1="300.82" y1="317.5" x2="300.82" y2="320.0" stroke-width="1"/>
<line x1="300.82" y1="477.5" x2="300.82" y2="475.0" stroke-width="1"/>
<line x1="307.94" y1="17.5" x2="307.94" y2="19.5" stroke-width="1"/>
<line x1="307.94" y1="317.5" x2="307.94" y2="315.5" stroke-width="1"/>
<line x1="307.94" y1="317.5" x2="307.94" y2="319.0" stroke-width="1"/>
<line x1="307.94" y1="477.5" x2="307.94" y2="476.0" stroke-width="1"/>
<line x1="315.05" y1="17.5" x2="315.05" y2="21.5" stroke-width="1"/>
<line x1="315.05" y1="317.5" x2="315.05" y2="313.5" stroke-width="1"/>
<line x1="315.05" y1="317.5" x2="315.05" y2="320.0" stroke-width="1"/>
<line x1="315.05" y1="477.5" x2="315.05" y2="475.0" stroke-width="1"/>
<line x1="322.16" y1="17.5" x2="322.16" y2="19.5" stroke-width="1"/>
<line x1="322.16" y1="317.5" x2="322.16" y2="315.5" stroke-width="1"/>
<line x1="322.16" y1="317.5" x2="322.16" y2="319.0" stroke-width="1"/>
<line x1="322.16" y1="477.5" x2="322.16" y2="476.0" stroke-width="1"/>
<line x1="329.27" y1="17.5" x2="329.27" y2="21.5" stroke-width="1"/>
<line x1="329.27" y1="317.5" x2="329.27" y2="313.5" stroke-width="1"/>
<line x1="329.27" y1="317.5" x2="329.27" y2="320.0" stroke-width="1"/>
<line x1="329.27" y1="477.5" x2="329.27" y2="475.0" stroke-width="1"/>
<line x1="336.39" y1="17.5" x2="336.39" y2="19.5" stroke-width="1"/>
<line x1="336.39" y1="317.5" x2="336.39" y2="315.5" stroke-width="1"/>
<line x1="336.39" y1="317.5" x2="336.39" y2="319.0" stroke-width="1"/>
<line x1="336.39" y1="477.5" x2="336.39" y2="476.0" stroke-width="1"/>
<line x1="343.50" y1="17.5" x2="343.50" y2="25.5" stroke-width="1"/>
<line x1="343.50" y1="317.5" x2="343.50" y2="309.5" stroke-width="1"/>
<line x1="343.50" y1="317.5" x2="343.50" y2="322.5" stroke-width="1"/>
<line x1="343.50" y1="477.5" x2="343.50" y2="472.5" stroke-width="1"/>
<line x1="350.61" y1="17.5" x2="350.61" y2="19.5" stroke-width="1"/>
<line x1="350.61" y1="317.5" x2="350.61" y2="315.5" stroke-width="1"/>
<line x1="350.61" y1="317.5" x2="350.61" y2="319.0" stroke-width="1"/>
<line x1="350.61" y1="477.5" x2="350.61" y2="476.0" stroke-width="1"/>
<line x1="357.73" y1="17.5" x2="357.73" y2="21.5" stroke-width="1"/>
<line x1="357.73" y1="317.5" x2="357.73" y2="313.5" stroke-width="1"/>
<line x1="357.73" y1="317.5" x2="357.73" y2="320.0" stroke-width="1"/>
<line x1="357.73" y1="477.5" x2="357.73" y2="475.0" stroke-width="1"/>
<line x1="364.84" y1="17.5" x2="364.84" y2="19.5" stroke-width="1"/>
<line x1="364.84" y1="317.5" x2="364.84" y2="315.5" stroke-width="1"/>
<line x1="364.84" y1="317.5" x2="364.84" y2="319.0" stroke-width="1"/>
<line x1="364.84" y1="477.5" x2="364.84" y2="476.0" stroke-width="1"/>
<line x1="45.5" y1="316.31" x2="51.5" y2="316.31" stroke-width="1"/>
<line x1="371.5" y1="316.31" x2="365.5" y2="316.31" stroke-width="1"/>
<line x1="45.5" y1="312.96" x2="56.5" y2="312.96" stroke-width="1"/>
<line x1="371.5" y1="312.96" x2="360.5" y2="312.96" stroke-width="1"/>
<line x1="45.5" y1="290.89" x2="51.5" y2="290.89" stroke-width="1"/>
<line x1="371.5" y1="290.89" x2="365.5" y2="290.89" stroke-width="1"/>
<line x1="45.5" y1="277.98" x2="51.5" y2="277.98" stroke-width="1"/>
<line x1="371.5" y1="277.98" x2="365.5" y2="277.98" stroke-width="1"/>
<line x1="45.5" y1="268.82" x2="51.5" y2="268.82" stroke-width="1"/>
<line x1="371.5" y1="268.82" x2="365.5" y2="268.82" stroke-width="1"/>
<line x1="45.5" y1="261.71" x2="51.5" y2="261.71" stroke-width="1"/>
<line x1="371.5" y1="261.71" x2="365.5" y2="261.71" stroke-width="1"/>
<line x1="45.5" y1="255.91" x2="51.5" y2="255.91" stroke-width="1"/>
<line x1="371.5" y1="255.91" x2="365.5" y2="255.91" stroke-width="1"/>
<line x1="45.5" y1="251.00" x2="51.5" y2="251.00" stroke-width="1"/>
<line x1="371.5" y1="251.00" x2="365.5" y2="251.00" stroke-width="1"/>
<line x1="45.5" y1="246.75" x2="51.5" y2="246.75" stroke-width="1"/>
<line x1="371.5" y1="246.75" x2="365.5" y2="246.75" stroke-width="1"/>
<line x1="45.5" y1="242.99" x2="51.5" y2="242.99" stroke-width="1"/>
<line x1="371.5" y1="242.99" x2="365.5" y2="242.99" stroke-width="1"/>
<line x1="45.5" y1="239.64" x2="56.5" y2="239.64" stroke-width="1"/>
<line x1="371.5" y1="239.64" x2="360.5" y2="239.64" stroke-width="1"/>
<line x1="45.5" y1="217.57" x2="51.5" y2="217.57" stroke-width="1"/>
<line x1="371.5" y1="217.57" x2="365.5" y2="217.57" stroke-width="1"/>
<line x1="45.5" y1="204.66" x2="51.5" y2="204.66" stroke-width="1"/>
<line x1="371.5" y1="204.66" x2="365.5" y2="204.66" stroke-width="1"/>
<line x1="45.5" y1="195.50" x2="51.5" y2="195.50" stroke-width="1"/>
<line x1="371.5" y1="195.50" x2="365.5" y2="195.50" stroke-width="1"/>
<line x1="45.5" y1="188.39" x2="51.5" y2="188.39" stroke-width="1"/>
<line x1="371.5" y1="188.39" x2="365.5" y2="188.39" stroke-width="1"/>
<line x1="45.5" y1="182.59" x2="51.5" y2="182.59" stroke-width="1"/>
<line x1="371.5" y1="182.59" x2="365.5" y2="182.59" stroke-width="1"/>
<line x1="45.5" y1="177.68" x2="51.5" y2="177.68" stroke-width="1"/>
<line x1="371.5" y1="177.68" x2="365.5" y2="177.68" stroke-width="1"/>
<line x1="45.5" y1="173.43" x2="51.5" y2="173.43" stroke-width="1"/>
<line x1="371.5" y1="173.43" x2="365.5" y2="173.43" stroke-width="1"/>
<line x1="45.5" y1="169.67" x2="51.5" y2="169.67" stroke-width="1"/>
<line x1="371.5" y1="169.67" x2="365.5" y2="169.67" stroke-width="1"/>
<line x1="45.5" y1="166.32" x2="56.5" y2="166.32" stroke-width="1"/>
<line x1="371.5" y1="166.32" x2="360.5" y2="166.32" stroke-width="1"/>
<line x1="45.5" y1="144.25" x2="51.5" y2="144.25" stroke-width="1"/>
<line x1="371.5" y1="144.25" x2="365.5" y2="144.25" stroke-width="1"/>
<line x1="45.5" y1="131.34" x2="51.5" y2="131.34" stroke-width="1"/>
<line x1="371.5" y1="131.34" x2="365.5" y2="131.34" stroke-width="1"/>
<line x1="45.5" y1="122.18" x2="51.5" y2="122.18" stroke-width="1"/>
<line x1="371.5" y1="122.18" x2="365.5" y2="122.18" stroke-width="1"/>
<line x1="45.5" y1="115.07" x2="51.5" y2="115.07" stroke-width="1"/>
<line x1="371.5" y1="115.07" x2="365.5" y2="115.07" stroke-width="1"/>
<line x1="45.5" y1="109.27" x2="51.5" y2="109.27" stroke-width="1"/>
<line x1="371.5" y1="109.27" x2="365.5" y2="109.27" stroke-width="1"/>
<line x1="45.5" y1="104.36" x2="51.5" y2="104.36" stroke-width="1"/>
<line x1="371.5" y1="104.36" x2="365.5" y2="104.36" stroke-width="1"/>
<line x1="45.5" y1="100.11" x2="51.5" y2="100.11" stroke-width="1"/>
<line x1="371.5" y1="100.11" x2="365.5" y2="100.11" stroke-width="1"/>
<line x1="45.5" y1="96.35" x2="51.5" y2="96.35" stroke-width="1"/>
<line x1="371.5" y1="96.35" x2="365.5" y2="96.35" stroke-width="1"/>
<line x1="45.5" y1="93.00" x2="56.5" y2="93.00" stroke-width="1"/>
<line x1="371.5" y1="93.00" x2="360.5" y2="93.00" stroke-width="1"/>
<line x1="45.5" y1="70.93" x2="51.5" y2="70.93" stroke-width="1"/>
<line x1="371.5" y1="70.93" x2="365.5" y2="70.93" stroke-width="1"/>
<line x1="45.5" y1="58.02" x2="51.5" y2="58.02" stroke-width="1"/>
<line x1="371.5" y1="58.02" x2="365.5" y2="58.02" stroke-width="1"/>
<line x1="45.5" y1="48.86" x2="51.5" y2="48.86" stroke-width="1"/>
<line x1="371.5" y1="48.86" x2="365.5" y2="48.86" stroke-width="1"/>
<line x1="45.5" y1="41.75" x2="51.5" y2="41.75" stroke-width="1"/>
<line x1="371.5" y1="41.75" x2="365.5" y2="41.75" stroke-width="1"/>
<line x1="45.5" y1="35.95" x2="51.5" y2="35.95" stroke-width="1"/>
<line x1="371.5" y1="35.95" x2="365.5" y2="35.95" stroke-width="1"/>
<line x1="45.5" y1="31.04" x2="51.5" y2="31.04" stroke-width="1"/>
<line x1="371.5" y1="31.04" x2="365.5" y2="31.04" stroke-width="1"/>
<line x1="45.5" y1="26.79" x2="51.5" y2="26.79" stroke-width="1"/>
<line x1="371.5" y1="26.79" x2="365.5" y2="26.79" stroke-width="1"/>
<line x1="45.5" y1="23.03" x2="51.5" y2="23.03" stroke-width="1"/>
<line x1="371.5" y1="23.03" x2="365.5" y2="23.03" stroke-width="1"/>
<line x1="45.5" y1="19.68" x2="56.5" y2="19.68" stroke-width="1"/>
<line x1="371.5" y1="19.68" x2="360.5" y2="19.68" stroke-width="1"/>
<line x1="45.5" y1="458.72" x2="53.0" y2="458.72" stroke-width="1"/>
<line x1="371.5" y1="458.72" x2="364.0" y2="458.72" stroke-width="1"/>
<line x1="45.5" y1="442.75" x2="50.5" y2="442.75" stroke-width="1"/>
<line x1="371.5" y1="442.75" x2="366.5" y2="442.75" stroke-width="1"/>
<line x1="45.5" y1="429.24" x2="50.5" y2="429.24" stroke-width="1"/>
<line x1="371.5" y1="429.24" x2="366.5" y2="429.24" stroke-width="1"/>
<line x1="45.5" y1="417.55" x2="50.5" y2="417.55" stroke-width="1"/>
<line x1="371.5" y1="417.55" x2="366.5" y2="417.55" stroke-width="1"/>
<line x1="45.5" y1="407.23" x2="50.5" y2="407.23" stroke-width="1"/>
<line x1="371.5" y1="407.23" x2="366.5" y2="407.23" stroke-width="1"/>
<line x1="45.5" y1="398.00" x2="53.0" y2="398.00" stroke-width="1"/>
<line x1="371.5" y1="398.00" x2="364.0" y2="398.00" stroke-width="1"/>
<line x1="45.5" y1="389.65" x2="50.5" y2="389.65" stroke-width="1"/>
<line x1="371.5" y1="389.65" x2="366.5" y2="389.65" stroke-width="1"/>
<line x1="45.5" y1="382.03" x2="50.5" y2="382.03" stroke-width="1"/>
<line x1="371.5" y1="382.03" x2="366.5" y2="382.03" stroke-width="1"/>
<line x1="45.5" y1="375.02" x2="50.5" y2="375.02" stroke-width="1"/>
<line x1="371.5" y1="375.02" x2="366.5" y2="375.02" stroke-width="1"/>
<line x1="45.5" y1="368.53" x2="50.5" y2="368.53" stroke-width="1"/>
<line x1="371.5" y1="368.53" x2="366.5" y2="368.53" stroke-width="1"/>
<line x1="45.5" y1="362.48" x2="50.5" y2="362.48" stroke-width="1"/>
<line x1="371.5" y1="362.48" x2="366.5" y2="362.48" stroke-width="1"/>
<line x1="45.5" y1="356.83" x2="50.5" y2="356.83" stroke-width="1"/>
<line x1="371.5" y1="356.83" x2="366.5" y2="356.83" stroke-width="1"/>
<line x1="45.5" y1="351.52" x2="50.5" y2="351.52" stroke-width="1"/>
<line x1="371.5" y1="351.52" x2="366.5" y2="351.52" stroke-width="1"/>
<line x1="45.5" y1="346.51" x2="50.5" y2="346.51" stroke-width="1"/>
<line x1="371.5" y1="346.51" x2="366.5" y2="346.51" stroke-width="1"/>
<line x1="45.5" y1="341.78" x2="50.5" y2="341.78" stroke-width="1"/>
<line x1="371.5" y1="341.78" x2="366.5" y2="341.78" stroke-width="1"/>
<line x1="45.5" y1="337.28" x2="53.0" y2="337.28" stroke-width="1"/>
<line x1="371.5" y1="337.28" x2="364.0" y2="337.28" stroke-width="1"/>
<line x1="45.5" y1="333.01" x2="50.5" y2="333.01" stroke-width="1"/>
<line x1="371.5" y1="333.01" x2="366.5" y2="333.01" stroke-width="1"/>
<line x1="45.5" y1="328.93" x2="50.5" y2="328.93" stroke-width="1"/>
<line x1="371.5" y1="328.93" x2="366.5" y2="328.93" stroke-width="1"/>
<line x1="45.5" y1="325.04" x2="50.5" y2="325.04" stroke-width="1"/>
<line x1="371.5" y1="325.04" x2="366.5" y2="325.04" stroke-width="1"/>
<line x1="45.5" y1="321.31" x2="50.5" y2="321.31" stroke-width="1"/>
<line x1="371.5" y1="321.31" x2="366.5" y2="321.31" stroke-width="1"/>
<line x1="45.5" y1="317.74" x2="50.5" y2="317.74" stroke-width="1"/>
<line x1="371.5" y1="317.74" x2="366.5" y2="317.74" stroke-width="1"/>
</g>
<g font-family="Liberation Sans, sans-serif" fill="#000">
<text x="51" y="14" font-size="12">13000 GeV pp</text>
<text x="365.3" y="13.7" font-size="12" text-anchor="end">Z+Jet</text>
<text x="75.8" y="42" font-size="12">Transverse region, 80 &lt; p<tspan font-size="8" dy="-5" dx="-2">Z</tspan><tspan font-size="8" dy="12.3" dx="-5">T</tspan><tspan dy="-7.3" dx="0.5"> &lt; 120 [GeV], low thrust</tspan></text>
<text x="40.2" y="24.1" font-size="11" text-anchor="end">10</text>
<text x="39.5" y="97.8" font-size="11" text-anchor="end">1</text>
<text x="39.6" y="172.2" font-size="11" text-anchor="end">10<tspan font-size="6.8" dy="-5" dx="0.2">&#8722;1</tspan></text>
<text x="39.6" y="245.2" font-size="11" text-anchor="end">10<tspan font-size="6.8" dy="-5" dx="0.2">&#8722;2</tspan></text>
<text x="39.6" y="318.6" font-size="11" text-anchor="end">10<tspan font-size="6.8" dy="-5" dx="0.2">&#8722;3</tspan></text>
<text x="38" y="341" font-size="11" text-anchor="end">2</text>
<text x="37.6" y="401.8" font-size="11" text-anchor="end">1</text>
<text x="38.2" y="462.2" font-size="11" text-anchor="end">0.5</text>
<text x="373.3" y="340.9" font-size="11">2</text>
<text x="373.8" y="402.3" font-size="11">1</text>
<text x="373.5" y="462.2" font-size="11">0.5</text>
<text x="59.0" y="489.2" font-size="10.5" text-anchor="middle">0</text>
<text x="130.1" y="489.2" font-size="10.5" text-anchor="middle">1</text>
<text x="201.2" y="489.2" font-size="10.5" text-anchor="middle">2</text>
<text x="272.4" y="489.2" font-size="10.5" text-anchor="middle">3</text>
<text x="343.5" y="489.2" font-size="10.5" text-anchor="middle">4</text>
<text x="318.4" y="502.6" font-size="12">N<tspan font-size="7" dy="4" dx="-0.8">ch</tspan><tspan dy="-4">/d&#951; d&#966;</tspan></text>
<text transform="translate(14.9,131.8) rotate(-90)" font-size="12">1/N<tspan font-size="7" dy="3.5" dx="-0.8">ev</tspan><tspan dy="-3.5"> dN</tspan><tspan font-size="7" dy="3.5" dx="-0.8">ev</tspan><tspan dy="-3.5">/dN</tspan><tspan font-size="7" dy="3.5" dx="-0.8">ch</tspan><tspan dy="-3.5">/d&#951; d&#966;</tspan></text>
<text transform="translate(17.9,427.6) rotate(-90)" font-size="9">Ratio to ATLAS</text>
<g font-size="9.35">
<rect x="74" y="231" width="5" height="5" fill="#000"/>
<text x="94.1" y="236.6">ATLAS</text>
<line x1="64" y1="246.8" x2="88.5" y2="246.8" stroke="#b35900" stroke-width="1" stroke-dasharray="2.2,1.8"/>
<circle cx="76.3" cy="246.8" r="2.55" fill="none" stroke="#b35900" stroke-width="1.1"/>
<text x="94.1" y="250.2">Herwig++ 2.7.1 default</text>
<line x1="64" y1="259.8" x2="88.5" y2="259.8" stroke="#339933" stroke-width="1" stroke-dasharray="2.2,1.8"/>
<rect x="73.9" y="257.3" width="5" height="5" fill="none" stroke="#339933" stroke-width="1.1"/>
<text x="94.1" y="263.2">Herwig 7.2.1 default</text>
<line x1="64" y1="272.8" x2="88.5" y2="272.8" stroke="#0000ff" stroke-width="1"/>
<path d="M73.9,275.6 L79.1,275.6 L76.5,270.1 Z" fill="#0000ff"/>
<text x="94.1" y="276.2">Pythia 8.315 default</text>
</g>
<text x="208" y="302" font-size="8" fill="#aaa" text-anchor="middle">(ATLAS_2019_I1736531)</text>
<text transform="translate(380.3,127.5) rotate(-90)" font-size="9.55" fill="#888">Rivet 4.1.0, &#8805; 3.7M events</text>
<text transform="translate(381.2,313.8) rotate(-90)" font-size="9.4" fill="#888">mcplots.cern.ch [arXiv:2401.10621]</text>
</g>
</svg></body></html>
